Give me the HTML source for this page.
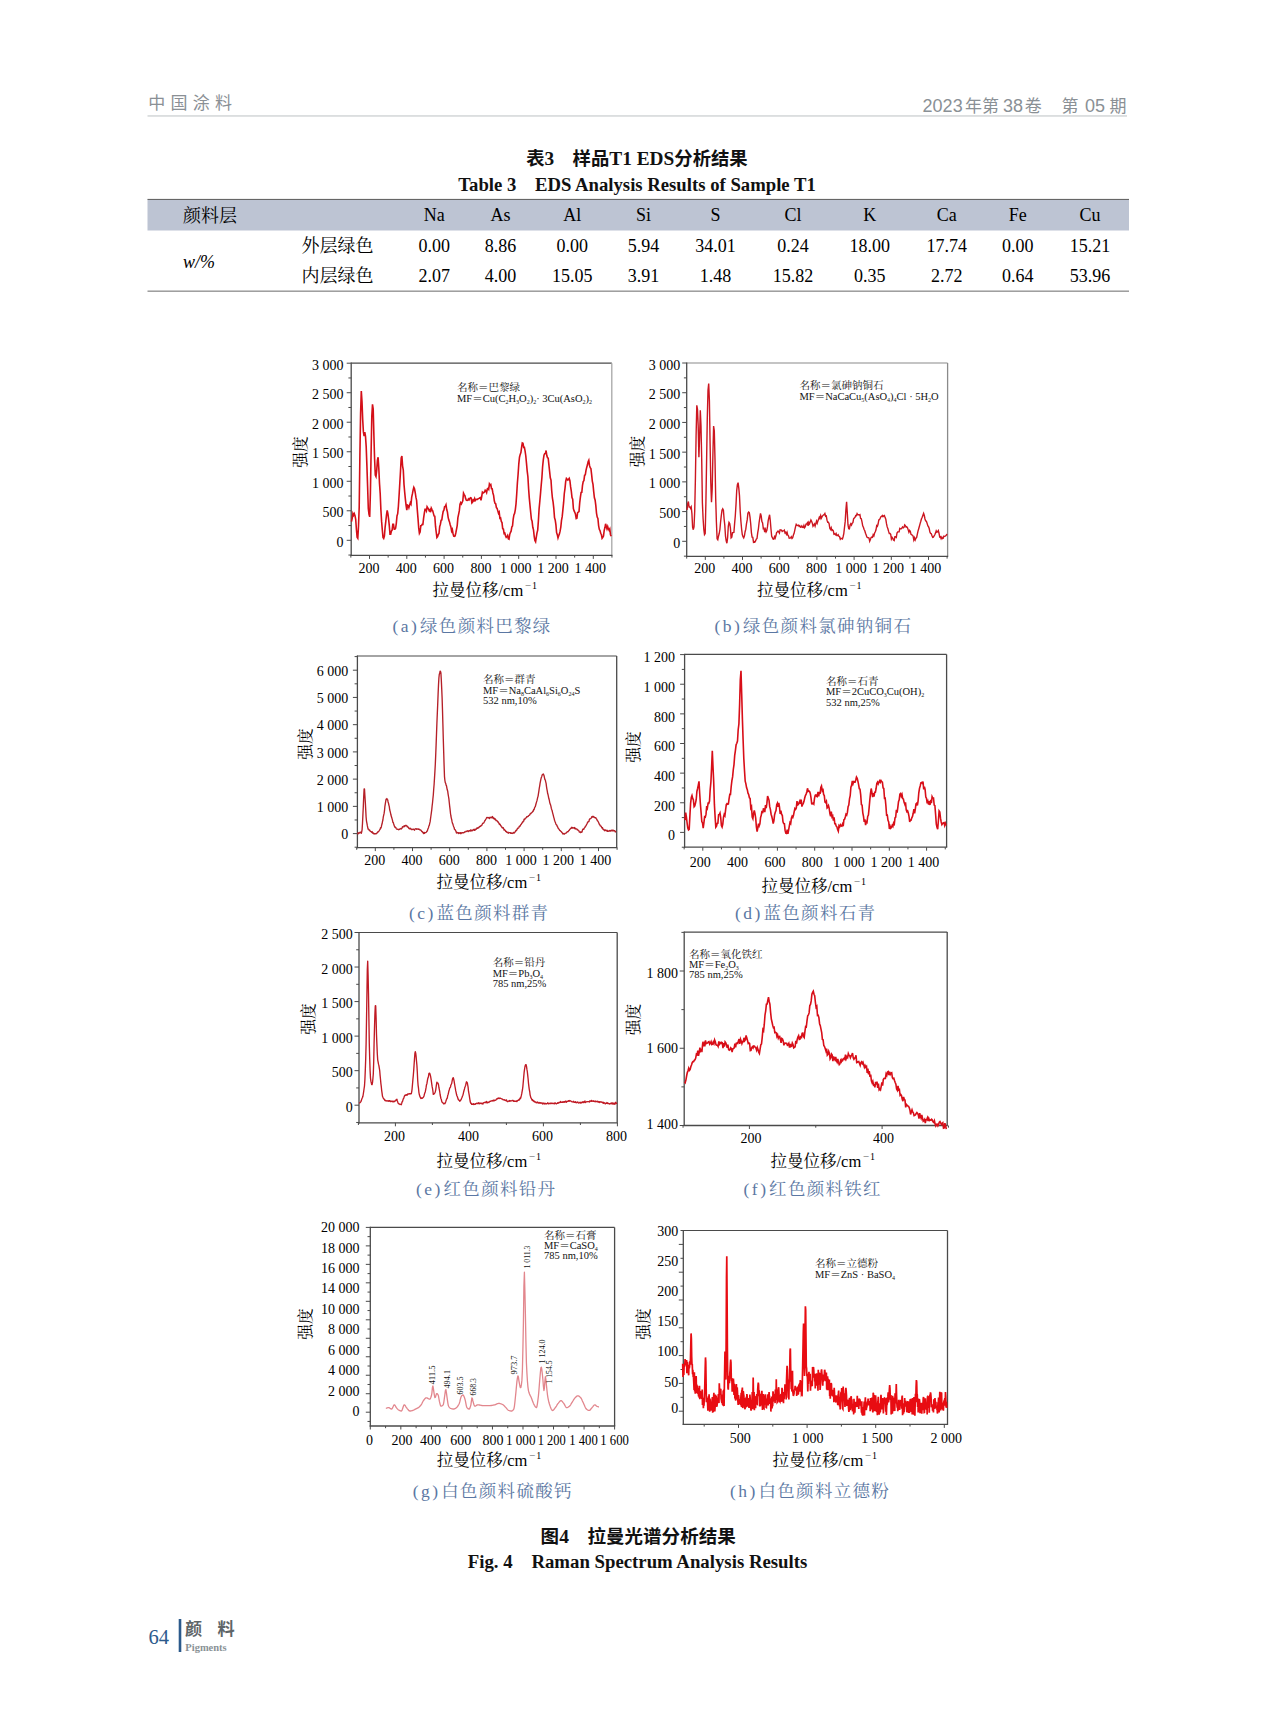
<!DOCTYPE html><html><head><meta charset="utf-8"><title>page</title><style>html,body{margin:0;padding:0;background:#fff;}body{width:1275px;height:1718px;overflow:hidden;position:relative;}svg{position:absolute;left:0;top:0;}</style></head><body>
<svg width="1275" height="1718" viewBox="0 0 1275 1718">
<text x="148.3" y="108.9" font-size="17" font-family="'Liberation Sans','Noto Sans CJK SC',sans-serif" fill="#8a9095" text-anchor="start" letter-spacing="5.2">中国涂料</text>
<text x="922.6" y="112.4" font-size="18" font-family="'Liberation Sans','Noto Sans CJK SC',sans-serif" fill="#8a9095" text-anchor="start" >2023</text>
<text x="965" y="112.4" font-size="17" font-family="'Liberation Sans','Noto Sans CJK SC',sans-serif" fill="#8a9095" text-anchor="start" >年第</text>
<text x="1003" y="112.4" font-size="18" font-family="'Liberation Sans','Noto Sans CJK SC',sans-serif" fill="#8a9095" text-anchor="start" >38</text>
<text x="1024.8" y="112.4" font-size="17" font-family="'Liberation Sans','Noto Sans CJK SC',sans-serif" fill="#8a9095" text-anchor="start" >卷</text>
<text x="1061.6" y="112.4" font-size="17" font-family="'Liberation Sans','Noto Sans CJK SC',sans-serif" fill="#8a9095" text-anchor="start" >第</text>
<text x="1085" y="112.4" font-size="18" font-family="'Liberation Sans','Noto Sans CJK SC',sans-serif" fill="#8a9095" text-anchor="start" >05</text>
<text x="1109.4" y="112.4" font-size="17" font-family="'Liberation Sans','Noto Sans CJK SC',sans-serif" fill="#8a9095" text-anchor="start" >期</text>
<rect x="147.5" y="115.2" width="979.5" height="1.5" fill="#d3d6d8"/>
<text x="526.2" y="165" font-family="'Liberation Sans','Noto Sans CJK SC',sans-serif" font-weight="bold" font-size="18.5" fill="#111" textLength="221.5" lengthAdjust="spacingAndGlyphs">表<tspan font-family="'Liberation Serif','Noto Serif CJK SC',serif" font-size="19.5">3</tspan>　样品<tspan font-family="'Liberation Serif','Noto Serif CJK SC',serif" font-size="19.5">T1 EDS</tspan>分析结果</text>
<text x="458.3" y="191" font-size="19.3" font-family="'Liberation Serif','Noto Serif CJK SC',serif" fill="#111" text-anchor="start" font-weight="bold" textLength="357.5" lengthAdjust="spacingAndGlyphs">Table 3 EDS Analysis Results of Sample T1</text>
<rect x="147.5" y="199.5" width="981.5" height="31" fill="#bdc4d3"/>
<rect x="147.5" y="198.9" width="981.5" height="1.1" fill="#666"/>
<rect x="147.5" y="290.6" width="981.5" height="1.1" fill="#777"/>
<text x="183" y="221.5" font-size="18" font-family="'Liberation Serif','Noto Serif CJK SC',serif" fill="#000" text-anchor="start" >颜料层</text>
<text x="434.3" y="221.2" font-size="18" font-family="'Liberation Serif','Noto Serif CJK SC',serif" fill="#000" text-anchor="middle" >Na</text>
<text x="434.3" y="251.6" font-size="18" font-family="'Liberation Serif','Noto Serif CJK SC',serif" fill="#000" text-anchor="middle" >0.00</text>
<text x="434.3" y="282.2" font-size="18" font-family="'Liberation Serif','Noto Serif CJK SC',serif" fill="#000" text-anchor="middle" >2.07</text>
<text x="500.4" y="221.2" font-size="18" font-family="'Liberation Serif','Noto Serif CJK SC',serif" fill="#000" text-anchor="middle" >As</text>
<text x="500.4" y="251.6" font-size="18" font-family="'Liberation Serif','Noto Serif CJK SC',serif" fill="#000" text-anchor="middle" >8.86</text>
<text x="500.4" y="282.2" font-size="18" font-family="'Liberation Serif','Noto Serif CJK SC',serif" fill="#000" text-anchor="middle" >4.00</text>
<text x="572.2" y="221.2" font-size="18" font-family="'Liberation Serif','Noto Serif CJK SC',serif" fill="#000" text-anchor="middle" >Al</text>
<text x="572.2" y="251.6" font-size="18" font-family="'Liberation Serif','Noto Serif CJK SC',serif" fill="#000" text-anchor="middle" >0.00</text>
<text x="572.2" y="282.2" font-size="18" font-family="'Liberation Serif','Noto Serif CJK SC',serif" fill="#000" text-anchor="middle" >15.05</text>
<text x="643.5" y="221.2" font-size="18" font-family="'Liberation Serif','Noto Serif CJK SC',serif" fill="#000" text-anchor="middle" >Si</text>
<text x="643.5" y="251.6" font-size="18" font-family="'Liberation Serif','Noto Serif CJK SC',serif" fill="#000" text-anchor="middle" >5.94</text>
<text x="643.5" y="282.2" font-size="18" font-family="'Liberation Serif','Noto Serif CJK SC',serif" fill="#000" text-anchor="middle" >3.91</text>
<text x="715.4" y="221.2" font-size="18" font-family="'Liberation Serif','Noto Serif CJK SC',serif" fill="#000" text-anchor="middle" >S</text>
<text x="715.4" y="251.6" font-size="18" font-family="'Liberation Serif','Noto Serif CJK SC',serif" fill="#000" text-anchor="middle" >34.01</text>
<text x="715.4" y="282.2" font-size="18" font-family="'Liberation Serif','Noto Serif CJK SC',serif" fill="#000" text-anchor="middle" >1.48</text>
<text x="793" y="221.2" font-size="18" font-family="'Liberation Serif','Noto Serif CJK SC',serif" fill="#000" text-anchor="middle" >Cl</text>
<text x="793" y="251.6" font-size="18" font-family="'Liberation Serif','Noto Serif CJK SC',serif" fill="#000" text-anchor="middle" >0.24</text>
<text x="793" y="282.2" font-size="18" font-family="'Liberation Serif','Noto Serif CJK SC',serif" fill="#000" text-anchor="middle" >15.82</text>
<text x="869.8" y="221.2" font-size="18" font-family="'Liberation Serif','Noto Serif CJK SC',serif" fill="#000" text-anchor="middle" >K</text>
<text x="869.8" y="251.6" font-size="18" font-family="'Liberation Serif','Noto Serif CJK SC',serif" fill="#000" text-anchor="middle" >18.00</text>
<text x="869.8" y="282.2" font-size="18" font-family="'Liberation Serif','Noto Serif CJK SC',serif" fill="#000" text-anchor="middle" >0.35</text>
<text x="946.8" y="221.2" font-size="18" font-family="'Liberation Serif','Noto Serif CJK SC',serif" fill="#000" text-anchor="middle" >Ca</text>
<text x="946.8" y="251.6" font-size="18" font-family="'Liberation Serif','Noto Serif CJK SC',serif" fill="#000" text-anchor="middle" >17.74</text>
<text x="946.8" y="282.2" font-size="18" font-family="'Liberation Serif','Noto Serif CJK SC',serif" fill="#000" text-anchor="middle" >2.72</text>
<text x="1017.8" y="221.2" font-size="18" font-family="'Liberation Serif','Noto Serif CJK SC',serif" fill="#000" text-anchor="middle" >Fe</text>
<text x="1017.8" y="251.6" font-size="18" font-family="'Liberation Serif','Noto Serif CJK SC',serif" fill="#000" text-anchor="middle" >0.00</text>
<text x="1017.8" y="282.2" font-size="18" font-family="'Liberation Serif','Noto Serif CJK SC',serif" fill="#000" text-anchor="middle" >0.64</text>
<text x="1090" y="221.2" font-size="18" font-family="'Liberation Serif','Noto Serif CJK SC',serif" fill="#000" text-anchor="middle" >Cu</text>
<text x="1090" y="251.6" font-size="18" font-family="'Liberation Serif','Noto Serif CJK SC',serif" fill="#000" text-anchor="middle" >15.21</text>
<text x="1090" y="282.2" font-size="18" font-family="'Liberation Serif','Noto Serif CJK SC',serif" fill="#000" text-anchor="middle" >53.96</text>
<text x="301.5" y="251.6" font-size="18" font-family="'Liberation Serif','Noto Serif CJK SC',serif" fill="#000" text-anchor="start" >外层绿色</text>
<text x="301.5" y="282.2" font-size="18" font-family="'Liberation Serif','Noto Serif CJK SC',serif" fill="#000" text-anchor="start" >内层绿色</text>
<text x="183" y="268" font-size="18" font-family="'Liberation Serif','Noto Serif CJK SC',serif" fill="#000" text-anchor="start" font-style="italic">w/%</text>
<line x1="351.2" y1="363.2" x2="611.8" y2="363.2" stroke="#4a4a4a" stroke-width="1.2"/>
<line x1="611.8" y1="363.2" x2="611.8" y2="555.4" stroke="#a6a6a6" stroke-width="1.3"/>
<line x1="351.2" y1="362.6" x2="351.2" y2="556" stroke="#4a4a4a" stroke-width="1.3"/>
<line x1="350.6" y1="555.4" x2="612.4" y2="555.4" stroke="#4a4a4a" stroke-width="1.3"/>
<line x1="348.4" y1="555.06" x2="351.2" y2="555.06" stroke="#4a4a4a" stroke-width="1"/>
<line x1="346.7" y1="540.3" x2="351.2" y2="540.3" stroke="#4a4a4a" stroke-width="1"/>
<line x1="348.4" y1="525.54" x2="351.2" y2="525.54" stroke="#4a4a4a" stroke-width="1"/>
<line x1="346.7" y1="510.78" x2="351.2" y2="510.78" stroke="#4a4a4a" stroke-width="1"/>
<line x1="348.4" y1="496.02" x2="351.2" y2="496.02" stroke="#4a4a4a" stroke-width="1"/>
<line x1="346.7" y1="481.27" x2="351.2" y2="481.27" stroke="#4a4a4a" stroke-width="1"/>
<line x1="348.4" y1="466.51" x2="351.2" y2="466.51" stroke="#4a4a4a" stroke-width="1"/>
<line x1="346.7" y1="451.75" x2="351.2" y2="451.75" stroke="#4a4a4a" stroke-width="1"/>
<line x1="348.4" y1="436.99" x2="351.2" y2="436.99" stroke="#4a4a4a" stroke-width="1"/>
<line x1="346.7" y1="422.23" x2="351.2" y2="422.23" stroke="#4a4a4a" stroke-width="1"/>
<line x1="348.4" y1="407.48" x2="351.2" y2="407.48" stroke="#4a4a4a" stroke-width="1"/>
<line x1="346.7" y1="392.72" x2="351.2" y2="392.72" stroke="#4a4a4a" stroke-width="1"/>
<line x1="348.4" y1="377.96" x2="351.2" y2="377.96" stroke="#4a4a4a" stroke-width="1"/>
<line x1="346.7" y1="363.2" x2="351.2" y2="363.2" stroke="#4a4a4a" stroke-width="1"/>
<line x1="350.85" y1="555.4" x2="350.85" y2="557.6" stroke="#4a4a4a" stroke-width="1"/>
<line x1="369.5" y1="555.4" x2="369.5" y2="558.9" stroke="#4a4a4a" stroke-width="1"/>
<line x1="388.15" y1="555.4" x2="388.15" y2="557.6" stroke="#4a4a4a" stroke-width="1"/>
<line x1="406.8" y1="555.4" x2="406.8" y2="558.9" stroke="#4a4a4a" stroke-width="1"/>
<line x1="425.45" y1="555.4" x2="425.45" y2="557.6" stroke="#4a4a4a" stroke-width="1"/>
<line x1="444.1" y1="555.4" x2="444.1" y2="558.9" stroke="#4a4a4a" stroke-width="1"/>
<line x1="462.75" y1="555.4" x2="462.75" y2="557.6" stroke="#4a4a4a" stroke-width="1"/>
<line x1="481.4" y1="555.4" x2="481.4" y2="558.9" stroke="#4a4a4a" stroke-width="1"/>
<line x1="500.05" y1="555.4" x2="500.05" y2="557.6" stroke="#4a4a4a" stroke-width="1"/>
<line x1="518.7" y1="555.4" x2="518.7" y2="558.9" stroke="#4a4a4a" stroke-width="1"/>
<line x1="537.35" y1="555.4" x2="537.35" y2="557.6" stroke="#4a4a4a" stroke-width="1"/>
<line x1="556" y1="555.4" x2="556" y2="558.9" stroke="#4a4a4a" stroke-width="1"/>
<line x1="574.65" y1="555.4" x2="574.65" y2="557.6" stroke="#4a4a4a" stroke-width="1"/>
<line x1="593.3" y1="555.4" x2="593.3" y2="558.9" stroke="#4a4a4a" stroke-width="1"/>
<line x1="611.95" y1="555.4" x2="611.95" y2="557.6" stroke="#4a4a4a" stroke-width="1"/>
<text x="343.5" y="369.8" font-size="14" font-family="'Liberation Serif','Noto Serif CJK SC',serif" fill="#000" text-anchor="end" >3 000</text>
<text x="343.5" y="399.32" font-size="14" font-family="'Liberation Serif','Noto Serif CJK SC',serif" fill="#000" text-anchor="end" >2 500</text>
<text x="343.5" y="428.83" font-size="14" font-family="'Liberation Serif','Noto Serif CJK SC',serif" fill="#000" text-anchor="end" >2 000</text>
<text x="343.5" y="458.35" font-size="14" font-family="'Liberation Serif','Noto Serif CJK SC',serif" fill="#000" text-anchor="end" >1 500</text>
<text x="343.5" y="487.87" font-size="14" font-family="'Liberation Serif','Noto Serif CJK SC',serif" fill="#000" text-anchor="end" >1 000</text>
<text x="343.5" y="517.38" font-size="14" font-family="'Liberation Serif','Noto Serif CJK SC',serif" fill="#000" text-anchor="end" >500</text>
<text x="343.5" y="546.9" font-size="14" font-family="'Liberation Serif','Noto Serif CJK SC',serif" fill="#000" text-anchor="end" >0</text>
<text x="369" y="572.8" font-size="14" font-family="'Liberation Serif','Noto Serif CJK SC',serif" fill="#000" text-anchor="middle" >200</text>
<text x="406.3" y="572.8" font-size="14" font-family="'Liberation Serif','Noto Serif CJK SC',serif" fill="#000" text-anchor="middle" >400</text>
<text x="443.6" y="572.8" font-size="14" font-family="'Liberation Serif','Noto Serif CJK SC',serif" fill="#000" text-anchor="middle" >600</text>
<text x="480.9" y="572.8" font-size="14" font-family="'Liberation Serif','Noto Serif CJK SC',serif" fill="#000" text-anchor="middle" >800</text>
<text x="515.7" y="572.8" font-size="14" font-family="'Liberation Serif','Noto Serif CJK SC',serif" fill="#000" text-anchor="middle" >1 000</text>
<text x="553" y="572.8" font-size="14" font-family="'Liberation Serif','Noto Serif CJK SC',serif" fill="#000" text-anchor="middle" >1 200</text>
<text x="590.3" y="572.8" font-size="14" font-family="'Liberation Serif','Noto Serif CJK SC',serif" fill="#000" text-anchor="middle" >1 400</text>
<text x="0" y="0" font-size="15.8" font-family="'Liberation Serif','Noto Serif CJK SC',serif" fill="#000" text-anchor="middle" transform="translate(306,452) rotate(-90)">强度</text>
<text x="432.5" y="596" font-size="16.5" font-family="'Liberation Serif','Noto Serif CJK SC',serif" fill="#000">拉曼位移/cm<tspan font-size="11" dy="-7" dx="1.5" fill="#666">−</tspan><tspan font-size="10" dx="1">1</tspan></text>
<text x="457" y="391" font-size="10.5" font-family="'Liberation Serif','Noto Serif CJK SC',serif" fill="#111">名称＝巴黎绿</text>
<text x="457" y="401.5" font-size="10.5" font-family="'Liberation Serif','Noto Serif CJK SC',serif" fill="#111">MF＝Cu(C<tspan font-size="6" baseline-shift="-2">2</tspan>H<tspan font-size="6" baseline-shift="-2">3</tspan>O<tspan font-size="6" baseline-shift="-2">2</tspan>)<tspan font-size="6" baseline-shift="-2">2</tspan>· 3Cu(AsO<tspan font-size="6" baseline-shift="-2">2</tspan>)<tspan font-size="6" baseline-shift="-2">2</tspan></text>
<text x="392.5" y="631.5" font-size="17.5" font-family="'Liberation Serif','Noto Serif CJK SC',serif" fill="#5b77a3" letter-spacing="1.3"><tspan letter-spacing="2.5">(a)</tspan><tspan dx="0.6">绿色颜料巴黎绿</tspan></text>
<path d="M351.5,521.7 L352.2,518.4 L352.9,513.6 L353.6,515.3 L354.3,513.7 L355.0,515.7 L355.7,519.3 L356.4,529.2 L357.1,537.3 L357.8,538.3 L358.5,526.2 L359.2,507.4 L359.9,454.9 L360.6,413.0 L361.3,391.0 L362.0,401.5 L362.7,419.6 L363.4,431.9 L364.1,436.0 L364.8,432.2 L365.5,436.4 L366.2,446.7 L366.9,465.6 L367.6,486.2 L368.3,508.5 L369.0,514.3 L369.7,516.9 L370.4,493.1 L371.1,452.8 L371.8,416.3 L372.5,404.3 L373.2,409.1 L373.9,435.4 L374.6,459.0 L375.3,475.0 L376.0,476.6 L376.7,470.7 L377.4,460.3 L378.1,457.2 L378.8,468.3 L379.5,483.4 L380.2,493.5 L380.9,510.0 L381.6,521.4 L382.3,529.7 L383.0,537.4 L383.7,538.4 L384.4,536.2 L385.1,527.4 L385.8,521.3 L386.5,514.8 L387.2,510.3 L387.9,513.7 L388.6,519.1 L389.3,525.6 L390.0,534.2 L390.7,534.2 L391.4,531.1 L392.1,530.1 L392.8,524.4 L393.5,524.4 L394.2,529.2 L394.9,529.2 L395.6,528.3 L396.3,523.3 L397.0,516.0 L397.7,513.7 L398.4,506.2 L399.1,495.1 L399.8,483.3 L400.5,471.3 L401.2,457.9 L401.9,456.1 L402.6,466.1 L403.3,470.1 L404.0,484.4 L404.7,492.4 L405.4,499.3 L406.1,505.7 L406.8,510.1 L407.5,505.1 L408.2,505.5 L408.9,507.7 L409.6,505.1 L410.3,502.8 L411.0,504.1 L411.7,497.1 L412.4,493.9 L413.1,490.1 L413.8,487.3 L414.5,488.8 L415.2,492.5 L415.9,497.2 L416.6,500.4 L417.3,509.9 L418.0,518.4 L418.7,527.9 L419.4,533.3 L420.1,531.9 L420.8,525.7 L421.5,525.6 L422.2,524.3 L422.9,524.4 L423.6,518.2 L424.3,513.3 L425.0,509.3 L425.7,509.3 L426.4,510.9 L427.1,506.7 L427.8,507.8 L428.5,509.1 L429.2,510.7 L429.9,509.8 L430.6,512.2 L431.3,508.1 L432.0,509.6 L432.7,510.9 L433.4,513.4 L434.1,515.9 L434.8,516.2 L435.5,526.2 L436.2,532.0 L436.9,537.5 L437.6,536.6 L438.3,534.4 L439.0,533.5 L439.7,526.6 L440.4,524.2 L441.1,520.3 L441.8,519.9 L442.5,515.2 L443.2,511.3 L443.9,510.1 L444.6,506.6 L445.3,506.4 L446.0,504.8 L446.7,509.5 L447.4,511.9 L448.1,517.1 L448.8,520.1 L449.5,521.9 L450.2,524.8 L450.9,526.9 L451.6,531.0 L452.3,529.4 L453.0,533.5 L453.7,536.1 L454.4,536.3 L455.1,535.9 L455.8,533.0 L456.5,529.4 L457.2,525.6 L457.9,517.7 L458.6,514.3 L459.3,510.9 L460.0,504.3 L460.7,502.6 L461.4,503.9 L462.1,502.5 L462.8,500.9 L463.5,493.2 L464.2,494.7 L464.9,495.7 L465.6,498.4 L466.3,500.2 L467.0,500.5 L467.7,500.3 L468.4,499.0 L469.1,499.8 L469.8,498.4 L470.5,497.8 L471.2,498.1 L471.9,503.0 L472.6,502.2 L473.3,498.8 L474.0,501.6 L474.7,498.6 L475.4,500.4 L476.1,499.4 L476.8,499.2 L477.5,499.3 L478.2,498.7 L478.9,498.4 L479.6,498.0 L480.3,497.6 L481.0,500.3 L481.7,496.5 L482.4,492.2 L483.1,492.9 L483.8,492.5 L484.5,492.0 L485.2,490.2 L485.9,491.0 L486.6,492.6 L487.3,489.0 L488.0,488.4 L488.7,489.4 L489.4,484.0 L490.1,485.2 L490.8,484.6 L491.5,488.6 L492.2,488.9 L492.9,493.0 L493.6,495.4 L494.3,500.8 L495.0,503.3 L495.7,503.8 L496.4,507.6 L497.1,508.4 L497.8,510.9 L498.5,513.3 L499.2,512.2 L499.9,518.3 L500.6,517.9 L501.3,521.4 L502.0,522.6 L502.7,528.7 L503.4,529.1 L504.1,533.5 L504.8,533.2 L505.5,535.8 L506.2,537.3 L506.9,536.6 L507.6,535.4 L508.3,538.8 L509.0,539.2 L509.7,534.6 L510.4,532.6 L511.1,531.2 L511.8,527.0 L512.5,526.0 L513.2,519.0 L513.9,514.9 L514.6,513.4 L515.3,509.8 L516.0,504.0 L516.7,494.3 L517.4,482.8 L518.1,474.2 L518.8,463.8 L519.5,457.2 L520.2,454.4 L520.9,452.6 L521.6,447.3 L522.3,442.9 L523.0,443.2 L523.7,447.4 L524.4,447.3 L525.1,451.2 L525.8,456.0 L526.5,463.4 L527.2,471.2 L527.9,476.7 L528.6,488.8 L529.3,498.1 L530.0,505.4 L530.7,512.5 L531.4,519.4 L532.1,521.3 L532.8,527.3 L533.5,529.9 L534.2,536.3 L534.9,540.5 L535.6,541.8 L536.3,537.2 L537.0,532.9 L537.7,530.1 L538.4,520.6 L539.1,508.8 L539.8,501.5 L540.5,493.6 L541.2,485.3 L541.9,477.7 L542.6,466.7 L543.3,459.9 L544.0,455.2 L544.7,453.6 L545.4,453.4 L546.1,450.5 L546.8,455.5 L547.5,457.7 L548.2,458.2 L548.9,464.9 L549.6,471.3 L550.3,477.8 L551.0,480.1 L551.7,490.8 L552.4,498.0 L553.1,502.1 L553.8,508.4 L554.5,517.6 L555.2,520.0 L555.9,524.7 L556.6,532.7 L557.3,534.7 L558.0,537.9 L558.7,535.8 L559.4,534.1 L560.1,531.2 L560.8,527.1 L561.5,520.4 L562.2,516.7 L562.9,509.6 L563.6,502.7 L564.3,493.5 L565.0,488.3 L565.7,481.3 L566.4,478.5 L567.1,479.3 L567.8,480.1 L568.5,479.4 L569.2,478.3 L569.9,480.7 L570.6,486.7 L571.3,491.1 L572.0,497.5 L572.7,499.1 L573.4,508.7 L574.1,511.0 L574.8,512.3 L575.5,514.3 L576.2,518.6 L576.9,518.2 L577.6,512.6 L578.3,512.1 L579.0,511.6 L579.7,502.9 L580.4,497.1 L581.1,492.5 L581.8,492.3 L582.5,485.3 L583.2,481.5 L583.9,480.7 L584.6,475.3 L585.3,474.8 L586.0,470.4 L586.7,467.4 L587.4,465.1 L588.1,461.8 L588.8,460.3 L589.5,465.4 L590.2,467.7 L590.9,468.5 L591.6,474.3 L592.3,481.1 L593.0,484.4 L593.7,491.7 L594.4,497.8 L595.1,500.0 L595.8,505.4 L596.5,513.1 L597.2,517.1 L597.9,518.4 L598.6,525.6 L599.3,529.3 L600.0,530.5 L600.7,533.3 L601.4,534.5 L602.1,538.3 L602.8,537.4 L603.5,536.0 L604.2,530.4 L604.9,527.8 L605.6,523.8 L606.3,526.5 L607.0,528.9 L607.7,526.6 L608.4,528.9 L609.1,530.3 L609.8,528.9 L610.5,534.7 L611.2,536.3" fill="none" stroke="#d40f18" stroke-width="1.6" stroke-linejoin="miter"/>
<line x1="686.7" y1="363" x2="947.6" y2="363" stroke="#8a8a8a" stroke-width="1.2"/>
<line x1="947.6" y1="363" x2="947.6" y2="556.4" stroke="#8a8a8a" stroke-width="1.3"/>
<line x1="686.7" y1="362.4" x2="686.7" y2="557" stroke="#4a4a4a" stroke-width="1.3"/>
<line x1="686.1" y1="556.4" x2="948.2" y2="556.4" stroke="#4a4a4a" stroke-width="1.3"/>
<line x1="683.9" y1="556.16" x2="686.7" y2="556.16" stroke="#4a4a4a" stroke-width="1"/>
<line x1="682.2" y1="541.3" x2="686.7" y2="541.3" stroke="#4a4a4a" stroke-width="1"/>
<line x1="683.9" y1="526.44" x2="686.7" y2="526.44" stroke="#4a4a4a" stroke-width="1"/>
<line x1="682.2" y1="511.58" x2="686.7" y2="511.58" stroke="#4a4a4a" stroke-width="1"/>
<line x1="683.9" y1="496.72" x2="686.7" y2="496.72" stroke="#4a4a4a" stroke-width="1"/>
<line x1="682.2" y1="481.87" x2="686.7" y2="481.87" stroke="#4a4a4a" stroke-width="1"/>
<line x1="683.9" y1="467.01" x2="686.7" y2="467.01" stroke="#4a4a4a" stroke-width="1"/>
<line x1="682.2" y1="452.15" x2="686.7" y2="452.15" stroke="#4a4a4a" stroke-width="1"/>
<line x1="683.9" y1="437.29" x2="686.7" y2="437.29" stroke="#4a4a4a" stroke-width="1"/>
<line x1="682.2" y1="422.43" x2="686.7" y2="422.43" stroke="#4a4a4a" stroke-width="1"/>
<line x1="683.9" y1="407.57" x2="686.7" y2="407.57" stroke="#4a4a4a" stroke-width="1"/>
<line x1="682.2" y1="392.72" x2="686.7" y2="392.72" stroke="#4a4a4a" stroke-width="1"/>
<line x1="683.9" y1="377.86" x2="686.7" y2="377.86" stroke="#4a4a4a" stroke-width="1"/>
<line x1="682.2" y1="363" x2="686.7" y2="363" stroke="#4a4a4a" stroke-width="1"/>
<line x1="686.7" y1="556.4" x2="686.7" y2="558.6" stroke="#4a4a4a" stroke-width="1"/>
<line x1="705.3" y1="556.4" x2="705.3" y2="559.9" stroke="#4a4a4a" stroke-width="1"/>
<line x1="723.9" y1="556.4" x2="723.9" y2="558.6" stroke="#4a4a4a" stroke-width="1"/>
<line x1="742.5" y1="556.4" x2="742.5" y2="559.9" stroke="#4a4a4a" stroke-width="1"/>
<line x1="761.1" y1="556.4" x2="761.1" y2="558.6" stroke="#4a4a4a" stroke-width="1"/>
<line x1="779.7" y1="556.4" x2="779.7" y2="559.9" stroke="#4a4a4a" stroke-width="1"/>
<line x1="798.3" y1="556.4" x2="798.3" y2="558.6" stroke="#4a4a4a" stroke-width="1"/>
<line x1="816.9" y1="556.4" x2="816.9" y2="559.9" stroke="#4a4a4a" stroke-width="1"/>
<line x1="835.5" y1="556.4" x2="835.5" y2="558.6" stroke="#4a4a4a" stroke-width="1"/>
<line x1="854.1" y1="556.4" x2="854.1" y2="559.9" stroke="#4a4a4a" stroke-width="1"/>
<line x1="872.7" y1="556.4" x2="872.7" y2="558.6" stroke="#4a4a4a" stroke-width="1"/>
<line x1="891.3" y1="556.4" x2="891.3" y2="559.9" stroke="#4a4a4a" stroke-width="1"/>
<line x1="909.9" y1="556.4" x2="909.9" y2="558.6" stroke="#4a4a4a" stroke-width="1"/>
<line x1="928.5" y1="556.4" x2="928.5" y2="559.9" stroke="#4a4a4a" stroke-width="1"/>
<line x1="947.1" y1="556.4" x2="947.1" y2="558.6" stroke="#4a4a4a" stroke-width="1"/>
<text x="680.2" y="369.6" font-size="14" font-family="'Liberation Serif','Noto Serif CJK SC',serif" fill="#000" text-anchor="end" >3 000</text>
<text x="680.2" y="399.32" font-size="14" font-family="'Liberation Serif','Noto Serif CJK SC',serif" fill="#000" text-anchor="end" >2 500</text>
<text x="680.2" y="429.03" font-size="14" font-family="'Liberation Serif','Noto Serif CJK SC',serif" fill="#000" text-anchor="end" >2 000</text>
<text x="680.2" y="458.75" font-size="14" font-family="'Liberation Serif','Noto Serif CJK SC',serif" fill="#000" text-anchor="end" >1 500</text>
<text x="680.2" y="488.47" font-size="14" font-family="'Liberation Serif','Noto Serif CJK SC',serif" fill="#000" text-anchor="end" >1 000</text>
<text x="680.2" y="518.18" font-size="14" font-family="'Liberation Serif','Noto Serif CJK SC',serif" fill="#000" text-anchor="end" >500</text>
<text x="680.2" y="547.9" font-size="14" font-family="'Liberation Serif','Noto Serif CJK SC',serif" fill="#000" text-anchor="end" >0</text>
<text x="704.8" y="573.3" font-size="14" font-family="'Liberation Serif','Noto Serif CJK SC',serif" fill="#000" text-anchor="middle" >200</text>
<text x="742" y="573.3" font-size="14" font-family="'Liberation Serif','Noto Serif CJK SC',serif" fill="#000" text-anchor="middle" >400</text>
<text x="779.2" y="573.3" font-size="14" font-family="'Liberation Serif','Noto Serif CJK SC',serif" fill="#000" text-anchor="middle" >600</text>
<text x="816.4" y="573.3" font-size="14" font-family="'Liberation Serif','Noto Serif CJK SC',serif" fill="#000" text-anchor="middle" >800</text>
<text x="851.1" y="573.3" font-size="14" font-family="'Liberation Serif','Noto Serif CJK SC',serif" fill="#000" text-anchor="middle" >1 000</text>
<text x="888.3" y="573.3" font-size="14" font-family="'Liberation Serif','Noto Serif CJK SC',serif" fill="#000" text-anchor="middle" >1 200</text>
<text x="925.5" y="573.3" font-size="14" font-family="'Liberation Serif','Noto Serif CJK SC',serif" fill="#000" text-anchor="middle" >1 400</text>
<text x="0" y="0" font-size="15.8" font-family="'Liberation Serif','Noto Serif CJK SC',serif" fill="#000" text-anchor="middle" transform="translate(642.7,451.5) rotate(-90)">强度</text>
<text x="757" y="596" font-size="16.5" font-family="'Liberation Serif','Noto Serif CJK SC',serif" fill="#000">拉曼位移/cm<tspan font-size="11" dy="-7" dx="1.5" fill="#666">−</tspan><tspan font-size="10" dx="1">1</tspan></text>
<text x="799.5" y="389" font-size="10.5" font-family="'Liberation Serif','Noto Serif CJK SC',serif" fill="#111">名称＝氯砷钠铜石</text>
<text x="799.5" y="399.5" font-size="10.5" font-family="'Liberation Serif','Noto Serif CJK SC',serif" fill="#111">MF＝NaCaCu<tspan font-size="6" baseline-shift="-2">5</tspan>(AsO<tspan font-size="6" baseline-shift="-2">4</tspan>)<tspan font-size="6" baseline-shift="-2">4</tspan>Cl · 5H<tspan font-size="6" baseline-shift="-2">2</tspan>O</text>
<text x="714.5" y="631.5" font-size="17.5" font-family="'Liberation Serif','Noto Serif CJK SC',serif" fill="#5b77a3" letter-spacing="1.3"><tspan letter-spacing="2.5">(b)</tspan><tspan dx="0.6">绿色颜料氯砷钠铜石</tspan></text>
<path d="M687.0,510.0 L687.7,503.7 L688.4,501.5 L689.1,507.0 L689.8,507.0 L690.5,508.3 L691.2,506.9 L691.9,513.3 L692.6,527.1 L693.3,529.7 L694.0,526.8 L694.7,511.6 L695.4,478.9 L696.1,435.2 L696.8,405.3 L697.5,409.4 L698.2,426.7 L698.9,457.2 L699.6,437.4 L700.3,410.2 L701.0,425.7 L701.7,458.9 L702.4,503.1 L703.1,518.7 L703.8,529.1 L704.5,534.5 L705.2,533.5 L705.9,502.5 L706.6,460.5 L707.3,417.8 L708.0,390.4 L708.7,383.6 L709.4,400.6 L710.1,443.4 L710.8,483.1 L711.5,502.2 L712.2,489.0 L712.9,454.4 L713.6,426.0 L714.3,430.7 L715.0,459.6 L715.7,498.5 L716.4,522.0 L717.1,538.7 L717.8,539.7 L718.5,536.2 L719.2,533.5 L719.9,529.5 L720.6,521.8 L721.3,515.7 L722.0,510.1 L722.7,508.8 L723.4,510.3 L724.1,519.0 L724.8,525.2 L725.5,536.1 L726.2,540.8 L726.9,543.2 L727.6,537.8 L728.3,526.3 L729.0,522.4 L729.7,523.5 L730.4,527.9 L731.1,537.8 L731.8,537.1 L732.5,532.7 L733.2,532.6 L733.9,532.5 L734.6,523.6 L735.3,515.7 L736.0,504.6 L736.7,490.7 L737.4,484.7 L738.1,482.6 L738.8,488.2 L739.5,495.9 L740.2,511.0 L740.9,521.2 L741.6,529.0 L742.3,534.5 L743.0,536.6 L743.7,537.8 L744.4,536.0 L745.1,531.7 L745.8,529.2 L746.5,523.6 L747.2,519.9 L747.9,513.2 L748.6,512.0 L749.3,512.6 L750.0,517.2 L750.7,523.7 L751.4,532.6 L752.1,537.2 L752.8,537.3 L753.5,542.2 L754.2,541.7 L754.9,542.1 L755.6,541.0 L756.3,539.1 L757.0,538.5 L757.7,532.8 L758.4,528.8 L759.1,522.5 L759.8,517.9 L760.5,513.4 L761.2,515.9 L761.9,521.5 L762.6,523.0 L763.3,528.7 L764.0,528.3 L764.7,532.0 L765.4,529.4 L766.1,531.9 L766.8,530.6 L767.5,526.7 L768.2,520.6 L768.9,517.3 L769.6,514.8 L770.3,520.8 L771.0,529.3 L771.7,536.3 L772.4,537.6 L773.1,539.0 L773.8,539.1 L774.5,536.7 L775.2,538.1 L775.9,535.8 L776.6,532.7 L777.3,531.9 L778.0,531.1 L778.7,531.8 L779.4,533.0 L780.1,529.8 L780.8,529.9 L781.5,530.1 L782.2,531.4 L782.9,530.9 L783.6,530.9 L784.3,530.1 L785.0,532.9 L785.7,532.2 L786.4,534.2 L787.1,532.3 L787.8,535.1 L788.5,535.9 L789.2,538.2 L789.9,538.1 L790.6,537.9 L791.3,536.8 L792.0,538.4 L792.7,537.6 L793.4,535.0 L794.1,533.4 L794.8,530.1 L795.5,526.8 L796.2,524.4 L796.9,525.4 L797.6,525.5 L798.3,525.2 L799.0,526.2 L799.7,525.6 L800.4,527.3 L801.1,527.2 L801.8,526.0 L802.5,527.4 L803.2,527.5 L803.9,525.5 L804.6,527.7 L805.3,526.8 L806.0,524.1 L806.7,524.0 L807.4,522.9 L808.1,525.9 L808.8,522.4 L809.5,523.8 L810.2,521.9 L810.9,520.0 L811.6,521.4 L812.3,523.1 L813.0,526.2 L813.7,525.2 L814.4,524.0 L815.1,526.1 L815.8,523.6 L816.5,521.1 L817.2,523.3 L817.9,521.1 L818.6,519.2 L819.3,517.2 L820.0,518.5 L820.7,515.6 L821.4,518.0 L822.1,516.6 L822.8,515.6 L823.5,514.9 L824.2,514.7 L824.9,513.5 L825.6,516.2 L826.3,515.9 L827.0,520.2 L827.7,522.3 L828.4,522.2 L829.1,523.7 L829.8,528.2 L830.5,529.4 L831.2,527.7 L831.9,530.4 L832.6,529.9 L833.3,530.8 L834.0,534.2 L834.7,533.9 L835.4,534.8 L836.1,533.5 L836.8,535.5 L837.5,535.5 L838.2,534.7 L838.9,536.2 L839.6,536.7 L840.3,539.2 L841.0,538.3 L841.7,538.7 L842.4,539.0 L843.1,536.7 L843.8,533.6 L844.5,527.4 L845.2,521.4 L845.9,509.9 L846.6,501.7 L847.3,512.9 L848.0,525.0 L848.7,528.6 L849.4,528.8 L850.1,525.1 L850.8,523.7 L851.5,525.0 L852.2,523.2 L852.9,522.7 L853.6,518.9 L854.3,518.0 L855.0,517.4 L855.7,515.5 L856.4,515.7 L857.1,513.6 L857.8,514.8 L858.5,514.7 L859.2,515.0 L859.9,514.6 L860.6,518.5 L861.3,518.7 L862.0,521.9 L862.7,525.8 L863.4,527.2 L864.1,529.5 L864.8,530.7 L865.5,533.3 L866.2,535.0 L866.9,537.1 L867.6,537.6 L868.3,537.7 L869.0,538.0 L869.7,541.2 L870.4,539.6 L871.1,537.4 L871.8,537.1 L872.5,537.3 L873.2,534.7 L873.9,535.8 L874.6,533.0 L875.3,531.8 L876.0,529.8 L876.7,525.7 L877.4,526.3 L878.1,524.0 L878.8,519.8 L879.5,519.7 L880.2,518.2 L880.9,516.7 L881.6,516.4 L882.3,515.5 L883.0,516.6 L883.7,515.9 L884.4,515.5 L885.1,517.6 L885.8,519.2 L886.5,523.7 L887.2,526.9 L887.9,528.8 L888.6,531.4 L889.3,533.5 L890.0,533.5 L890.7,534.3 L891.4,539.0 L892.1,537.4 L892.8,538.4 L893.5,540.1 L894.2,540.6 L894.9,536.7 L895.6,536.7 L896.3,537.3 L897.0,533.0 L897.7,532.0 L898.4,531.9 L899.1,531.8 L899.8,528.4 L900.5,528.9 L901.2,528.9 L901.9,528.0 L902.6,527.0 L903.3,527.9 L904.0,527.4 L904.7,524.9 L905.4,525.7 L906.1,527.2 L906.8,526.9 L907.5,527.8 L908.2,529.9 L908.9,532.1 L909.6,530.4 L910.3,531.3 L911.0,534.4 L911.7,534.8 L912.4,535.0 L913.1,536.2 L913.8,539.9 L914.5,537.8 L915.2,539.9 L915.9,538.2 L916.6,537.6 L917.3,534.3 L918.0,531.1 L918.7,528.7 L919.4,526.2 L920.1,523.6 L920.8,521.3 L921.5,518.8 L922.2,517.2 L922.9,515.2 L923.6,513.3 L924.3,515.5 L925.0,519.0 L925.7,520.9 L926.4,521.2 L927.1,523.4 L927.8,525.8 L928.5,526.7 L929.2,528.5 L929.9,532.1 L930.6,533.4 L931.3,533.7 L932.0,535.8 L932.7,537.3 L933.4,537.1 L934.1,536.0 L934.8,534.8 L935.5,533.1 L936.2,530.8 L936.9,532.2 L937.6,531.8 L938.3,530.6 L939.0,533.2 L939.7,537.0 L940.4,536.7 L941.1,538.7 L941.8,537.1 L942.5,538.6 L943.2,538.3 L943.9,536.1 L944.6,536.3 L945.3,536.1 L946.0,535.6 L946.7,534.5 L947.4,534.7" fill="none" stroke="#cc1620" stroke-width="1.4" stroke-linejoin="miter"/>
<line x1="357.4" y1="656" x2="616.7" y2="656" stroke="#4a4a4a" stroke-width="1.2"/>
<line x1="616.7" y1="656" x2="616.7" y2="847.6" stroke="#4a4a4a" stroke-width="1.3"/>
<line x1="357.4" y1="655.4" x2="357.4" y2="848.2" stroke="#4a4a4a" stroke-width="1.3"/>
<line x1="356.8" y1="847.6" x2="617.3" y2="847.6" stroke="#4a4a4a" stroke-width="1.3"/>
<line x1="354.6" y1="847.22" x2="357.4" y2="847.22" stroke="#4a4a4a" stroke-width="1"/>
<line x1="352.9" y1="833.6" x2="357.4" y2="833.6" stroke="#4a4a4a" stroke-width="1"/>
<line x1="354.6" y1="819.98" x2="357.4" y2="819.98" stroke="#4a4a4a" stroke-width="1"/>
<line x1="352.9" y1="806.37" x2="357.4" y2="806.37" stroke="#4a4a4a" stroke-width="1"/>
<line x1="354.6" y1="792.75" x2="357.4" y2="792.75" stroke="#4a4a4a" stroke-width="1"/>
<line x1="352.9" y1="779.13" x2="357.4" y2="779.13" stroke="#4a4a4a" stroke-width="1"/>
<line x1="354.6" y1="765.52" x2="357.4" y2="765.52" stroke="#4a4a4a" stroke-width="1"/>
<line x1="352.9" y1="751.9" x2="357.4" y2="751.9" stroke="#4a4a4a" stroke-width="1"/>
<line x1="354.6" y1="738.28" x2="357.4" y2="738.28" stroke="#4a4a4a" stroke-width="1"/>
<line x1="352.9" y1="724.67" x2="357.4" y2="724.67" stroke="#4a4a4a" stroke-width="1"/>
<line x1="354.6" y1="711.05" x2="357.4" y2="711.05" stroke="#4a4a4a" stroke-width="1"/>
<line x1="352.9" y1="697.43" x2="357.4" y2="697.43" stroke="#4a4a4a" stroke-width="1"/>
<line x1="354.6" y1="683.82" x2="357.4" y2="683.82" stroke="#4a4a4a" stroke-width="1"/>
<line x1="352.9" y1="670.2" x2="357.4" y2="670.2" stroke="#4a4a4a" stroke-width="1"/>
<line x1="354.6" y1="656.58" x2="357.4" y2="656.58" stroke="#4a4a4a" stroke-width="1"/>
<line x1="356.7" y1="847.6" x2="356.7" y2="849.8" stroke="#4a4a4a" stroke-width="1"/>
<line x1="375.3" y1="847.6" x2="375.3" y2="851.1" stroke="#4a4a4a" stroke-width="1"/>
<line x1="393.9" y1="847.6" x2="393.9" y2="849.8" stroke="#4a4a4a" stroke-width="1"/>
<line x1="412.5" y1="847.6" x2="412.5" y2="851.1" stroke="#4a4a4a" stroke-width="1"/>
<line x1="431.1" y1="847.6" x2="431.1" y2="849.8" stroke="#4a4a4a" stroke-width="1"/>
<line x1="449.7" y1="847.6" x2="449.7" y2="851.1" stroke="#4a4a4a" stroke-width="1"/>
<line x1="468.3" y1="847.6" x2="468.3" y2="849.8" stroke="#4a4a4a" stroke-width="1"/>
<line x1="486.9" y1="847.6" x2="486.9" y2="851.1" stroke="#4a4a4a" stroke-width="1"/>
<line x1="505.5" y1="847.6" x2="505.5" y2="849.8" stroke="#4a4a4a" stroke-width="1"/>
<line x1="524.1" y1="847.6" x2="524.1" y2="851.1" stroke="#4a4a4a" stroke-width="1"/>
<line x1="542.7" y1="847.6" x2="542.7" y2="849.8" stroke="#4a4a4a" stroke-width="1"/>
<line x1="561.3" y1="847.6" x2="561.3" y2="851.1" stroke="#4a4a4a" stroke-width="1"/>
<line x1="579.9" y1="847.6" x2="579.9" y2="849.8" stroke="#4a4a4a" stroke-width="1"/>
<line x1="598.5" y1="847.6" x2="598.5" y2="851.1" stroke="#4a4a4a" stroke-width="1"/>
<line x1="617.1" y1="847.6" x2="617.1" y2="849.8" stroke="#4a4a4a" stroke-width="1"/>
<text x="348.2" y="676" font-size="14" font-family="'Liberation Serif','Noto Serif CJK SC',serif" fill="#000" text-anchor="end" >6 000</text>
<text x="348.2" y="703.23" font-size="14" font-family="'Liberation Serif','Noto Serif CJK SC',serif" fill="#000" text-anchor="end" >5 000</text>
<text x="348.2" y="730.47" font-size="14" font-family="'Liberation Serif','Noto Serif CJK SC',serif" fill="#000" text-anchor="end" >4 000</text>
<text x="348.2" y="757.7" font-size="14" font-family="'Liberation Serif','Noto Serif CJK SC',serif" fill="#000" text-anchor="end" >3 000</text>
<text x="348.2" y="784.93" font-size="14" font-family="'Liberation Serif','Noto Serif CJK SC',serif" fill="#000" text-anchor="end" >2 000</text>
<text x="348.2" y="812.17" font-size="14" font-family="'Liberation Serif','Noto Serif CJK SC',serif" fill="#000" text-anchor="end" >1 000</text>
<text x="348.2" y="839.4" font-size="14" font-family="'Liberation Serif','Noto Serif CJK SC',serif" fill="#000" text-anchor="end" >0</text>
<text x="374.8" y="865" font-size="14" font-family="'Liberation Serif','Noto Serif CJK SC',serif" fill="#000" text-anchor="middle" >200</text>
<text x="412" y="865" font-size="14" font-family="'Liberation Serif','Noto Serif CJK SC',serif" fill="#000" text-anchor="middle" >400</text>
<text x="449.2" y="865" font-size="14" font-family="'Liberation Serif','Noto Serif CJK SC',serif" fill="#000" text-anchor="middle" >600</text>
<text x="486.4" y="865" font-size="14" font-family="'Liberation Serif','Noto Serif CJK SC',serif" fill="#000" text-anchor="middle" >800</text>
<text x="521.1" y="865" font-size="14" font-family="'Liberation Serif','Noto Serif CJK SC',serif" fill="#000" text-anchor="middle" >1 000</text>
<text x="558.3" y="865" font-size="14" font-family="'Liberation Serif','Noto Serif CJK SC',serif" fill="#000" text-anchor="middle" >1 200</text>
<text x="595.5" y="865" font-size="14" font-family="'Liberation Serif','Noto Serif CJK SC',serif" fill="#000" text-anchor="middle" >1 400</text>
<text x="0" y="0" font-size="15.8" font-family="'Liberation Serif','Noto Serif CJK SC',serif" fill="#000" text-anchor="middle" transform="translate(311,744) rotate(-90)">强度</text>
<text x="436.5" y="888" font-size="16.5" font-family="'Liberation Serif','Noto Serif CJK SC',serif" fill="#000">拉曼位移/cm<tspan font-size="11" dy="-7" dx="1.5" fill="#666">−</tspan><tspan font-size="10" dx="1">1</tspan></text>
<text x="483" y="683" font-size="10.5" font-family="'Liberation Serif','Noto Serif CJK SC',serif" fill="#111">名称＝群青</text>
<text x="483" y="693.5" font-size="10.5" font-family="'Liberation Serif','Noto Serif CJK SC',serif" fill="#111">MF＝Na<tspan font-size="6" baseline-shift="-2">8</tspan>CaAl<tspan font-size="6" baseline-shift="-2">6</tspan>Si<tspan font-size="6" baseline-shift="-2">6</tspan>O<tspan font-size="6" baseline-shift="-2">24</tspan>S</text>
<text x="483" y="704" font-size="10.5" font-family="'Liberation Serif','Noto Serif CJK SC',serif" fill="#111">532 nm,10%</text>
<text x="409" y="918.5" font-size="17.5" font-family="'Liberation Serif','Noto Serif CJK SC',serif" fill="#5b77a3" letter-spacing="1.3"><tspan letter-spacing="2.5">(c)</tspan><tspan dx="0.6">蓝色颜料群青</tspan></text>
<path d="M357.7,834.4 L358.1,832.6 L358.5,833.6 L358.9,833.1 L359.3,833.0 L359.7,832.9 L360.1,832.2 L360.5,832.6 L360.9,832.2 L361.3,833.4 L361.7,831.9 L362.1,829.6 L362.5,823.2 L362.9,814.9 L363.3,806.8 L363.7,796.8 L364.1,789.0 L364.5,789.0 L364.9,795.8 L365.3,801.9 L365.7,809.4 L366.1,817.0 L366.5,821.1 L366.9,823.2 L367.3,825.4 L367.7,827.3 L368.1,829.0 L368.5,829.0 L368.9,829.6 L369.3,830.5 L369.7,830.2 L370.1,830.8 L370.5,831.5 L370.9,831.7 L371.3,831.8 L371.7,832.4 L372.1,831.5 L372.5,833.1 L372.9,832.8 L373.3,832.8 L373.7,833.7 L374.1,834.0 L374.5,833.7 L374.9,833.5 L375.3,833.8 L375.7,833.6 L376.1,833.9 L376.5,833.4 L376.9,832.9 L377.3,832.9 L377.7,832.1 L378.1,831.5 L378.5,831.7 L378.9,831.2 L379.3,830.5 L379.7,829.7 L380.1,829.4 L380.5,827.8 L380.9,828.1 L381.3,827.0 L381.7,824.9 L382.1,823.8 L382.5,821.5 L382.9,820.0 L383.3,816.9 L383.7,815.2 L384.1,813.4 L384.5,810.7 L384.9,806.3 L385.3,803.8 L385.7,801.4 L386.1,799.2 L386.5,799.3 L386.9,798.5 L387.3,799.7 L387.7,799.9 L388.1,802.0 L388.5,803.2 L388.9,805.1 L389.3,806.7 L389.7,809.8 L390.1,811.2 L390.5,812.9 L390.9,814.8 L391.3,816.2 L391.7,817.5 L392.1,818.9 L392.5,820.3 L392.9,822.3 L393.3,822.5 L393.7,824.0 L394.1,825.2 L394.5,826.4 L394.9,827.2 L395.3,827.1 L395.7,827.3 L396.1,828.3 L396.5,829.0 L396.9,829.1 L397.3,829.2 L397.7,829.2 L398.1,829.5 L398.5,829.4 L398.9,829.7 L399.3,829.1 L399.7,829.2 L400.1,828.9 L400.5,828.8 L400.9,828.4 L401.3,829.0 L401.7,828.3 L402.1,828.1 L402.5,826.7 L402.9,827.0 L403.3,826.7 L403.7,826.8 L404.1,825.6 L404.5,826.6 L404.9,826.3 L405.3,825.4 L405.7,825.4 L406.1,825.4 L406.5,825.7 L406.9,826.1 L407.3,826.9 L407.7,826.5 L408.1,827.3 L408.5,827.5 L408.9,828.5 L409.3,828.5 L409.7,828.9 L410.1,828.2 L410.5,828.7 L410.9,828.7 L411.3,829.6 L411.7,829.5 L412.1,829.2 L412.5,829.3 L412.9,829.6 L413.3,829.2 L413.7,829.1 L414.1,829.6 L414.5,830.2 L414.9,829.2 L415.3,829.0 L415.7,828.7 L416.1,828.6 L416.5,829.2 L416.9,829.2 L417.3,828.9 L417.7,829.1 L418.1,829.1 L418.5,829.3 L418.9,828.9 L419.3,829.4 L419.7,829.9 L420.1,829.8 L420.5,830.1 L420.9,830.2 L421.3,830.7 L421.7,831.5 L422.1,831.5 L422.5,832.0 L422.9,832.7 L423.3,833.0 L423.7,833.6 L424.1,832.3 L424.5,833.3 L424.9,832.7 L425.3,832.6 L425.7,832.6 L426.1,832.3 L426.5,831.9 L426.9,831.1 L427.3,831.0 L427.7,829.6 L428.1,828.6 L428.5,827.7 L428.9,825.9 L429.3,825.4 L429.7,823.4 L430.1,821.9 L430.5,818.8 L430.9,816.0 L431.3,813.2 L431.7,810.2 L432.1,806.3 L432.5,803.0 L432.9,798.8 L433.3,795.0 L433.7,789.3 L434.1,784.5 L434.5,778.1 L434.9,771.6 L435.3,764.5 L435.7,755.2 L436.1,745.1 L436.5,734.3 L436.9,723.2 L437.3,713.7 L437.7,704.5 L438.1,694.1 L438.5,685.0 L438.9,678.0 L439.3,674.2 L439.7,673.3 L440.1,671.1 L440.5,671.3 L440.9,672.9 L441.3,679.8 L441.7,688.4 L442.1,697.5 L442.5,710.2 L442.9,724.4 L443.3,739.2 L443.7,752.2 L444.1,765.6 L444.5,776.6 L444.9,780.5 L445.3,782.7 L445.7,783.3 L446.1,785.1 L446.5,785.8 L446.9,788.1 L447.3,790.1 L447.7,791.1 L448.1,794.1 L448.5,796.5 L448.9,798.9 L449.3,802.8 L449.7,806.3 L450.1,809.7 L450.5,813.5 L450.9,816.0 L451.3,818.1 L451.7,819.5 L452.1,821.9 L452.5,823.4 L452.9,824.1 L453.3,825.5 L453.7,826.7 L454.1,827.5 L454.5,829.3 L454.9,829.6 L455.3,830.0 L455.7,830.8 L456.1,831.7 L456.5,833.0 L456.9,832.4 L457.3,832.6 L457.7,832.8 L458.1,832.7 L458.5,833.6 L458.9,832.7 L459.3,833.2 L459.7,833.0 L460.1,833.2 L460.5,832.6 L460.9,833.7 L461.3,833.0 L461.7,833.0 L462.1,832.6 L462.5,832.6 L462.9,832.9 L463.3,832.9 L463.7,832.6 L464.1,832.6 L464.5,832.2 L464.9,831.8 L465.3,831.9 L465.7,831.6 L466.1,831.2 L466.5,831.4 L466.9,831.5 L467.3,831.1 L467.7,830.8 L468.1,831.1 L468.5,831.5 L468.9,830.7 L469.3,830.7 L469.7,830.6 L470.1,831.1 L470.5,829.9 L470.9,830.6 L471.3,830.9 L471.7,830.1 L472.1,830.8 L472.5,830.4 L472.9,829.9 L473.3,830.1 L473.7,829.4 L474.1,829.6 L474.5,830.3 L474.9,829.2 L475.3,830.0 L475.7,829.2 L476.1,829.4 L476.5,828.9 L476.9,827.9 L477.3,828.3 L477.7,828.4 L478.1,827.7 L478.5,827.4 L478.9,827.7 L479.3,827.0 L479.7,826.3 L480.1,826.3 L480.5,826.5 L480.9,825.6 L481.3,825.7 L481.7,825.5 L482.1,824.6 L482.5,823.7 L482.9,823.2 L483.3,823.2 L483.7,823.0 L484.1,822.2 L484.5,821.6 L484.9,820.6 L485.3,820.2 L485.7,819.3 L486.1,818.8 L486.5,818.0 L486.9,817.5 L487.3,817.8 L487.7,817.4 L488.1,817.4 L488.5,817.9 L488.9,817.6 L489.3,818.6 L489.7,817.8 L490.1,817.2 L490.5,817.7 L490.9,817.5 L491.3,817.2 L491.7,817.8 L492.1,817.2 L492.5,816.5 L492.9,818.0 L493.3,817.8 L493.7,818.7 L494.1,818.2 L494.5,818.3 L494.9,819.6 L495.3,819.0 L495.7,819.8 L496.1,820.6 L496.5,820.4 L496.9,820.7 L497.3,821.1 L497.7,821.8 L498.1,821.7 L498.5,822.7 L498.9,823.2 L499.3,824.3 L499.7,824.0 L500.1,824.3 L500.5,825.5 L500.9,825.6 L501.3,826.4 L501.7,826.9 L502.1,827.7 L502.5,827.5 L502.9,828.1 L503.3,827.7 L503.7,828.7 L504.1,830.1 L504.5,829.7 L504.9,830.2 L505.3,830.4 L505.7,831.4 L506.1,831.6 L506.5,831.5 L506.9,832.4 L507.3,832.4 L507.7,832.7 L508.1,832.3 L508.5,833.2 L508.9,832.8 L509.3,832.7 L509.7,832.6 L510.1,832.7 L510.5,833.2 L510.9,832.8 L511.3,833.3 L511.7,833.2 L512.1,833.5 L512.5,833.3 L512.9,833.0 L513.3,832.4 L513.7,833.1 L514.1,833.1 L514.5,832.6 L514.9,832.3 L515.3,831.5 L515.7,831.0 L516.1,830.3 L516.5,830.6 L516.9,829.7 L517.3,828.9 L517.7,828.2 L518.1,828.1 L518.5,828.1 L518.9,827.3 L519.3,826.3 L519.7,826.5 L520.1,826.0 L520.5,825.2 L520.9,824.6 L521.3,824.2 L521.7,823.4 L522.1,823.0 L522.5,821.9 L522.9,822.1 L523.3,821.1 L523.7,821.1 L524.1,819.1 L524.5,819.6 L524.9,819.2 L525.3,818.2 L525.7,818.1 L526.1,817.8 L526.5,817.4 L526.9,816.7 L527.3,816.5 L527.7,816.7 L528.1,816.5 L528.5,815.8 L528.9,815.5 L529.3,815.2 L529.7,815.1 L530.1,814.0 L530.5,813.5 L530.9,813.6 L531.3,812.8 L531.7,812.6 L532.1,812.3 L532.5,812.0 L532.9,810.9 L533.3,811.0 L533.7,809.5 L534.1,809.6 L534.5,808.0 L534.9,807.1 L535.3,806.6 L535.7,805.0 L536.1,803.5 L536.5,802.1 L536.9,800.9 L537.3,799.1 L537.7,797.4 L538.1,796.1 L538.5,793.3 L538.9,790.8 L539.3,788.0 L539.7,785.8 L540.1,783.2 L540.5,781.1 L540.9,779.1 L541.3,777.6 L541.7,776.7 L542.1,775.1 L542.5,774.7 L542.9,774.3 L543.3,774.0 L543.7,774.8 L544.1,775.8 L544.5,777.8 L544.9,779.5 L545.3,779.9 L545.7,781.8 L546.1,783.3 L546.5,786.6 L546.9,789.1 L547.3,791.1 L547.7,793.8 L548.1,794.8 L548.5,797.0 L548.9,798.8 L549.3,800.0 L549.7,802.3 L550.1,803.9 L550.5,804.6 L550.9,806.1 L551.3,808.2 L551.7,809.5 L552.1,810.5 L552.5,812.3 L552.9,813.9 L553.3,815.4 L553.7,817.1 L554.1,818.4 L554.5,820.2 L554.9,821.3 L555.3,822.2 L555.7,823.4 L556.1,824.4 L556.5,825.0 L556.9,825.1 L557.3,826.6 L557.7,827.0 L558.1,828.2 L558.5,828.3 L558.9,829.1 L559.3,829.6 L559.7,830.5 L560.1,830.5 L560.5,830.8 L560.9,831.5 L561.3,831.7 L561.7,832.3 L562.1,832.7 L562.5,833.2 L562.9,834.1 L563.3,833.5 L563.7,833.8 L564.1,833.8 L564.5,834.1 L564.9,833.3 L565.3,833.3 L565.7,833.2 L566.1,833.1 L566.5,832.6 L566.9,832.1 L567.3,831.6 L567.7,831.7 L568.1,831.7 L568.5,831.0 L568.9,830.6 L569.3,830.2 L569.7,829.3 L570.1,829.1 L570.5,828.6 L570.9,828.4 L571.3,828.0 L571.7,827.3 L572.1,828.0 L572.5,828.1 L572.9,827.5 L573.3,827.8 L573.7,827.8 L574.1,828.2 L574.5,827.5 L574.9,828.8 L575.3,828.2 L575.7,829.0 L576.1,828.8 L576.5,828.8 L576.9,829.1 L577.3,829.8 L577.7,829.6 L578.1,830.2 L578.5,830.6 L578.9,830.6 L579.3,832.0 L579.7,832.1 L580.1,832.1 L580.5,832.6 L580.9,831.8 L581.3,832.0 L581.7,832.3 L582.1,831.6 L582.5,830.0 L582.9,829.1 L583.3,829.3 L583.7,829.4 L584.1,828.3 L584.5,827.8 L584.9,827.5 L585.3,826.4 L585.7,826.1 L586.1,825.6 L586.5,824.7 L586.9,824.0 L587.3,822.9 L587.7,822.6 L588.1,821.6 L588.5,821.6 L588.9,821.5 L589.3,819.8 L589.7,818.8 L590.1,818.8 L590.5,818.6 L590.9,818.3 L591.3,817.9 L591.7,816.9 L592.1,816.6 L592.5,817.1 L592.9,816.2 L593.3,817.0 L593.7,816.6 L594.1,817.2 L594.5,817.4 L594.9,817.6 L595.3,817.9 L595.7,817.6 L596.1,818.4 L596.5,818.9 L596.9,819.6 L597.3,820.6 L597.7,820.9 L598.1,821.5 L598.5,822.3 L598.9,823.2 L599.3,824.3 L599.7,824.4 L600.1,825.6 L600.5,825.9 L600.9,826.2 L601.3,826.4 L601.7,827.4 L602.1,828.1 L602.5,827.6 L602.9,829.1 L603.3,829.6 L603.7,829.4 L604.1,829.7 L604.5,830.7 L604.9,830.5 L605.3,829.9 L605.7,830.5 L606.1,830.6 L606.5,830.8 L606.9,830.1 L607.3,831.3 L607.7,830.9 L608.1,831.2 L608.5,831.0 L608.9,831.3 L609.3,830.8 L609.7,830.5 L610.1,830.9 L610.5,831.1 L610.9,830.4 L611.3,830.9 L611.7,830.4 L612.1,830.1 L612.5,830.8 L612.9,830.1 L613.3,830.8 L613.7,830.4 L614.1,830.9 L614.5,830.6 L614.9,830.9 L615.3,831.9 L615.7,831.8 L616.1,832.1" fill="none" stroke="#b52028" stroke-width="1.35" stroke-linejoin="round"/>
<line x1="684.6" y1="654.4" x2="946.6" y2="654.4" stroke="#4a4a4a" stroke-width="1.2"/>
<line x1="946.6" y1="654.4" x2="946.6" y2="847.2" stroke="#4a4a4a" stroke-width="1.3"/>
<line x1="684.6" y1="653.8" x2="684.6" y2="847.8" stroke="#4a4a4a" stroke-width="1.3"/>
<line x1="684" y1="847.2" x2="947.2" y2="847.2" stroke="#4a4a4a" stroke-width="1.3"/>
<line x1="681.8" y1="847.22" x2="684.6" y2="847.22" stroke="#4a4a4a" stroke-width="1"/>
<line x1="680.1" y1="832.4" x2="684.6" y2="832.4" stroke="#4a4a4a" stroke-width="1"/>
<line x1="681.8" y1="817.58" x2="684.6" y2="817.58" stroke="#4a4a4a" stroke-width="1"/>
<line x1="680.1" y1="802.77" x2="684.6" y2="802.77" stroke="#4a4a4a" stroke-width="1"/>
<line x1="681.8" y1="787.95" x2="684.6" y2="787.95" stroke="#4a4a4a" stroke-width="1"/>
<line x1="680.1" y1="773.13" x2="684.6" y2="773.13" stroke="#4a4a4a" stroke-width="1"/>
<line x1="681.8" y1="758.32" x2="684.6" y2="758.32" stroke="#4a4a4a" stroke-width="1"/>
<line x1="680.1" y1="743.5" x2="684.6" y2="743.5" stroke="#4a4a4a" stroke-width="1"/>
<line x1="681.8" y1="728.68" x2="684.6" y2="728.68" stroke="#4a4a4a" stroke-width="1"/>
<line x1="680.1" y1="713.87" x2="684.6" y2="713.87" stroke="#4a4a4a" stroke-width="1"/>
<line x1="681.8" y1="699.05" x2="684.6" y2="699.05" stroke="#4a4a4a" stroke-width="1"/>
<line x1="680.1" y1="684.23" x2="684.6" y2="684.23" stroke="#4a4a4a" stroke-width="1"/>
<line x1="681.8" y1="669.42" x2="684.6" y2="669.42" stroke="#4a4a4a" stroke-width="1"/>
<line x1="680.1" y1="654.6" x2="684.6" y2="654.6" stroke="#4a4a4a" stroke-width="1"/>
<line x1="684.15" y1="847.2" x2="684.15" y2="849.4" stroke="#4a4a4a" stroke-width="1"/>
<line x1="702.8" y1="847.2" x2="702.8" y2="850.7" stroke="#4a4a4a" stroke-width="1"/>
<line x1="721.45" y1="847.2" x2="721.45" y2="849.4" stroke="#4a4a4a" stroke-width="1"/>
<line x1="740.1" y1="847.2" x2="740.1" y2="850.7" stroke="#4a4a4a" stroke-width="1"/>
<line x1="758.75" y1="847.2" x2="758.75" y2="849.4" stroke="#4a4a4a" stroke-width="1"/>
<line x1="777.4" y1="847.2" x2="777.4" y2="850.7" stroke="#4a4a4a" stroke-width="1"/>
<line x1="796.05" y1="847.2" x2="796.05" y2="849.4" stroke="#4a4a4a" stroke-width="1"/>
<line x1="814.7" y1="847.2" x2="814.7" y2="850.7" stroke="#4a4a4a" stroke-width="1"/>
<line x1="833.35" y1="847.2" x2="833.35" y2="849.4" stroke="#4a4a4a" stroke-width="1"/>
<line x1="852" y1="847.2" x2="852" y2="850.7" stroke="#4a4a4a" stroke-width="1"/>
<line x1="870.65" y1="847.2" x2="870.65" y2="849.4" stroke="#4a4a4a" stroke-width="1"/>
<line x1="889.3" y1="847.2" x2="889.3" y2="850.7" stroke="#4a4a4a" stroke-width="1"/>
<line x1="907.95" y1="847.2" x2="907.95" y2="849.4" stroke="#4a4a4a" stroke-width="1"/>
<line x1="926.6" y1="847.2" x2="926.6" y2="850.7" stroke="#4a4a4a" stroke-width="1"/>
<line x1="945.25" y1="847.2" x2="945.25" y2="849.4" stroke="#4a4a4a" stroke-width="1"/>
<text x="675.1" y="662.4" font-size="14" font-family="'Liberation Serif','Noto Serif CJK SC',serif" fill="#000" text-anchor="end" >1 200</text>
<text x="675.1" y="692.03" font-size="14" font-family="'Liberation Serif','Noto Serif CJK SC',serif" fill="#000" text-anchor="end" >1 000</text>
<text x="675.1" y="721.67" font-size="14" font-family="'Liberation Serif','Noto Serif CJK SC',serif" fill="#000" text-anchor="end" >800</text>
<text x="675.1" y="751.3" font-size="14" font-family="'Liberation Serif','Noto Serif CJK SC',serif" fill="#000" text-anchor="end" >600</text>
<text x="675.1" y="780.93" font-size="14" font-family="'Liberation Serif','Noto Serif CJK SC',serif" fill="#000" text-anchor="end" >400</text>
<text x="675.1" y="810.57" font-size="14" font-family="'Liberation Serif','Noto Serif CJK SC',serif" fill="#000" text-anchor="end" >200</text>
<text x="675.1" y="840.2" font-size="14" font-family="'Liberation Serif','Noto Serif CJK SC',serif" fill="#000" text-anchor="end" >0</text>
<text x="700.3" y="866.8" font-size="14" font-family="'Liberation Serif','Noto Serif CJK SC',serif" fill="#000" text-anchor="middle" >200</text>
<text x="737.6" y="866.8" font-size="14" font-family="'Liberation Serif','Noto Serif CJK SC',serif" fill="#000" text-anchor="middle" >400</text>
<text x="774.9" y="866.8" font-size="14" font-family="'Liberation Serif','Noto Serif CJK SC',serif" fill="#000" text-anchor="middle" >600</text>
<text x="812.2" y="866.8" font-size="14" font-family="'Liberation Serif','Noto Serif CJK SC',serif" fill="#000" text-anchor="middle" >800</text>
<text x="849" y="866.8" font-size="14" font-family="'Liberation Serif','Noto Serif CJK SC',serif" fill="#000" text-anchor="middle" >1 000</text>
<text x="886.3" y="866.8" font-size="14" font-family="'Liberation Serif','Noto Serif CJK SC',serif" fill="#000" text-anchor="middle" >1 200</text>
<text x="923.6" y="866.8" font-size="14" font-family="'Liberation Serif','Noto Serif CJK SC',serif" fill="#000" text-anchor="middle" >1 400</text>
<text x="0" y="0" font-size="15.8" font-family="'Liberation Serif','Noto Serif CJK SC',serif" fill="#000" text-anchor="middle" transform="translate(639.1,747) rotate(-90)">强度</text>
<text x="761.5" y="892" font-size="16.5" font-family="'Liberation Serif','Noto Serif CJK SC',serif" fill="#000">拉曼位移/cm<tspan font-size="11" dy="-7" dx="1.5" fill="#666">−</tspan><tspan font-size="10" dx="1">1</tspan></text>
<text x="826" y="684.5" font-size="10.5" font-family="'Liberation Serif','Noto Serif CJK SC',serif" fill="#111">名称＝石青</text>
<text x="826" y="695" font-size="10.5" font-family="'Liberation Serif','Noto Serif CJK SC',serif" fill="#111">MF＝2CuCO<tspan font-size="6" baseline-shift="-2">3</tspan>Cu(OH)<tspan font-size="6" baseline-shift="-2">2</tspan></text>
<text x="826" y="705.5" font-size="10.5" font-family="'Liberation Serif','Noto Serif CJK SC',serif" fill="#111">532 nm,25%</text>
<text x="735" y="918.5" font-size="17.5" font-family="'Liberation Serif','Noto Serif CJK SC',serif" fill="#5b77a3" letter-spacing="1.3"><tspan letter-spacing="2.5">(d)</tspan><tspan dx="0.6">蓝色颜料石青</tspan></text>
<path d="M685.0,820.1 L685.7,812.6 L686.4,817.0 L687.1,823.0 L687.8,828.0 L688.5,829.9 L689.2,829.3 L689.9,815.8 L690.6,803.3 L691.3,797.5 L692.0,795.5 L692.7,798.4 L693.4,799.9 L694.1,806.7 L694.8,805.8 L695.5,803.1 L696.2,799.7 L696.9,791.5 L697.6,788.5 L698.3,785.1 L699.0,781.3 L699.7,793.5 L700.4,804.0 L701.1,812.5 L701.8,821.6 L702.5,823.0 L703.2,828.1 L703.9,822.8 L704.6,816.7 L705.3,817.1 L706.0,814.4 L706.7,806.0 L707.4,807.8 L708.1,803.2 L708.8,803.3 L709.5,801.0 L710.2,789.3 L710.9,782.1 L711.6,767.5 L712.3,750.9 L713.0,766.7 L713.7,781.6 L714.4,804.4 L715.1,816.8 L715.8,827.2 L716.5,826.2 L717.2,823.4 L717.9,823.1 L718.6,814.8 L719.3,814.5 L720.0,813.0 L720.7,817.5 L721.4,825.5 L722.1,827.0 L722.8,824.0 L723.5,817.2 L724.2,814.4 L724.9,815.7 L725.6,809.8 L726.3,804.6 L727.0,803.7 L727.7,804.3 L728.4,804.0 L729.1,798.7 L729.8,794.3 L730.5,794.4 L731.2,786.5 L731.9,780.7 L732.6,776.9 L733.3,769.5 L734.0,764.6 L734.7,755.4 L735.4,750.7 L736.1,744.8 L736.8,743.2 L737.5,741.0 L738.2,729.5 L738.9,724.0 L739.6,704.9 L740.3,679.8 L741.0,670.8 L741.7,693.9 L742.4,719.1 L743.1,739.8 L743.8,758.5 L744.5,770.5 L745.2,781.2 L745.9,783.9 L746.6,787.8 L747.3,789.7 L748.0,793.2 L748.7,794.5 L749.4,797.9 L750.1,798.5 L750.8,808.1 L751.5,806.7 L752.2,817.1 L752.9,818.8 L753.6,813.5 L754.3,810.4 L755.0,813.6 L755.7,818.2 L756.4,827.0 L757.1,831.7 L757.8,828.1 L758.5,823.7 L759.2,825.8 L759.9,823.9 L760.6,817.5 L761.3,815.1 L762.0,810.9 L762.7,813.2 L763.4,808.8 L764.1,808.9 L764.8,812.1 L765.5,805.1 L766.2,808.2 L766.9,803.2 L767.6,796.1 L768.3,798.1 L769.0,800.1 L769.7,806.7 L770.4,809.4 L771.1,814.2 L771.8,816.5 L772.5,819.6 L773.2,823.5 L773.9,820.8 L774.6,814.7 L775.3,812.2 L776.0,810.6 L776.7,804.6 L777.4,803.1 L778.1,806.9 L778.8,802.9 L779.5,807.1 L780.2,813.9 L780.9,810.6 L781.6,814.5 L782.3,815.2 L783.0,821.9 L783.7,823.5 L784.4,823.7 L785.1,830.4 L785.8,833.2 L786.5,833.4 L787.2,829.7 L787.9,833.9 L788.6,830.1 L789.3,826.2 L790.0,822.5 L790.7,823.5 L791.4,818.3 L792.1,816.4 L792.8,817.5 L793.5,815.3 L794.2,811.7 L794.9,808.5 L795.6,809.3 L796.3,807.9 L797.0,801.1 L797.7,804.9 L798.4,804.5 L799.1,802.5 L799.8,801.0 L800.5,803.8 L801.2,799.7 L801.9,806.6 L802.6,804.5 L803.3,803.3 L804.0,801.3 L804.7,798.0 L805.4,795.6 L806.1,794.1 L806.8,792.0 L807.5,788.3 L808.2,791.3 L808.9,791.0 L809.6,791.5 L810.3,793.4 L811.0,797.6 L811.7,803.7 L812.4,803.8 L813.1,803.2 L813.8,804.1 L814.5,798.3 L815.2,795.2 L815.9,794.9 L816.6,796.3 L817.3,796.6 L818.0,791.8 L818.7,796.3 L819.4,791.9 L820.1,794.0 L820.8,787.5 L821.5,786.0 L822.2,790.3 L822.9,788.5 L823.6,794.4 L824.3,795.6 L825.0,802.2 L825.7,802.8 L826.4,801.4 L827.1,807.9 L827.8,807.2 L828.5,805.7 L829.2,808.3 L829.9,813.7 L830.6,816.3 L831.3,811.7 L832.0,816.8 L832.7,815.8 L833.4,820.7 L834.1,817.3 L834.8,823.7 L835.5,823.7 L836.2,826.1 L836.9,826.8 L837.6,829.6 L838.3,831.2 L839.0,825.7 L839.7,826.7 L840.4,824.8 L841.1,825.8 L841.8,826.2 L842.5,824.2 L843.2,826.1 L843.9,819.8 L844.6,819.3 L845.3,817.0 L846.0,814.2 L846.7,815.0 L847.4,812.4 L848.1,806.6 L848.8,805.1 L849.5,798.9 L850.2,795.7 L850.9,787.2 L851.6,785.3 L852.3,781.0 L853.0,783.8 L853.7,781.6 L854.4,782.0 L855.1,782.1 L855.8,779.8 L856.5,777.1 L857.2,778.2 L857.9,781.2 L858.6,784.6 L859.3,788.7 L860.0,789.2 L860.7,794.9 L861.4,804.6 L862.1,805.1 L862.8,812.8 L863.5,816.4 L864.2,821.8 L864.9,819.4 L865.6,825.1 L866.3,821.8 L867.0,822.4 L867.7,816.4 L868.4,815.1 L869.1,808.1 L869.8,800.1 L870.5,793.4 L871.2,788.5 L871.9,792.3 L872.6,797.1 L873.3,793.2 L874.0,796.5 L874.7,792.3 L875.4,792.3 L876.1,788.5 L876.8,783.4 L877.5,782.1 L878.2,783.8 L878.9,782.1 L879.6,780.8 L880.3,782.3 L881.0,780.6 L881.7,781.7 L882.4,782.2 L883.1,788.0 L883.8,788.4 L884.5,798.3 L885.2,798.2 L885.9,805.8 L886.6,815.2 L887.3,815.1 L888.0,820.4 L888.7,822.0 L889.4,829.0 L890.1,826.2 L890.8,828.2 L891.5,827.3 L892.2,825.4 L892.9,826.5 L893.6,823.1 L894.3,824.1 L895.0,817.9 L895.7,817.1 L896.4,809.9 L897.1,812.7 L897.8,807.6 L898.5,801.6 L899.2,799.9 L899.9,794.2 L900.6,793.5 L901.3,796.2 L902.0,794.5 L902.7,798.6 L903.4,799.0 L904.1,802.4 L904.8,804.3 L905.5,802.2 L906.2,809.9 L906.9,811.7 L907.6,810.9 L908.3,813.0 L909.0,816.4 L909.7,821.9 L910.4,819.9 L911.1,820.1 L911.8,817.8 L912.5,816.4 L913.2,813.3 L913.9,809.1 L914.6,813.4 L915.3,809.1 L916.0,803.9 L916.7,803.2 L917.4,805.4 L918.1,800.8 L918.8,792.8 L919.5,788.4 L920.2,786.0 L920.9,782.8 L921.6,782.5 L922.3,783.3 L923.0,781.5 L923.7,789.4 L924.4,786.7 L925.1,789.5 L925.8,797.1 L926.5,798.3 L927.2,803.3 L927.9,801.4 L928.6,804.6 L929.3,801.2 L930.0,805.0 L930.7,799.8 L931.4,803.2 L932.1,796.6 L932.8,798.0 L933.5,798.0 L934.2,805.1 L934.9,805.6 L935.6,814.3 L936.3,824.1 L937.0,827.2 L937.7,829.3 L938.4,820.5 L939.1,811.0 L939.8,812.1 L940.5,818.2 L941.2,822.0 L941.9,824.6 L942.6,823.5 L943.3,822.9 L944.0,822.6 L944.7,825.5 L945.4,823.4 L946.1,825.5" fill="none" stroke="#d80e18" stroke-width="1.6" stroke-linejoin="miter"/>
<line x1="359" y1="932.5" x2="617.2" y2="932.5" stroke="#4a4a4a" stroke-width="1.2"/>
<line x1="617.2" y1="932.5" x2="617.2" y2="1122.8" stroke="#4a4a4a" stroke-width="1.3"/>
<line x1="359" y1="931.9" x2="359" y2="1123.4" stroke="#4a4a4a" stroke-width="1.3"/>
<line x1="358.4" y1="1122.8" x2="617.8" y2="1122.8" stroke="#4a4a4a" stroke-width="1.3"/>
<line x1="356.2" y1="1122.47" x2="359" y2="1122.47" stroke="#4a4a4a" stroke-width="1"/>
<line x1="354.5" y1="1105.2" x2="359" y2="1105.2" stroke="#4a4a4a" stroke-width="1"/>
<line x1="356.2" y1="1087.93" x2="359" y2="1087.93" stroke="#4a4a4a" stroke-width="1"/>
<line x1="354.5" y1="1070.66" x2="359" y2="1070.66" stroke="#4a4a4a" stroke-width="1"/>
<line x1="356.2" y1="1053.39" x2="359" y2="1053.39" stroke="#4a4a4a" stroke-width="1"/>
<line x1="354.5" y1="1036.12" x2="359" y2="1036.12" stroke="#4a4a4a" stroke-width="1"/>
<line x1="356.2" y1="1018.85" x2="359" y2="1018.85" stroke="#4a4a4a" stroke-width="1"/>
<line x1="354.5" y1="1001.58" x2="359" y2="1001.58" stroke="#4a4a4a" stroke-width="1"/>
<line x1="356.2" y1="984.31" x2="359" y2="984.31" stroke="#4a4a4a" stroke-width="1"/>
<line x1="354.5" y1="967.04" x2="359" y2="967.04" stroke="#4a4a4a" stroke-width="1"/>
<line x1="356.2" y1="949.77" x2="359" y2="949.77" stroke="#4a4a4a" stroke-width="1"/>
<line x1="354.5" y1="932.5" x2="359" y2="932.5" stroke="#4a4a4a" stroke-width="1"/>
<line x1="358.4" y1="1122.8" x2="358.4" y2="1125" stroke="#4a4a4a" stroke-width="1"/>
<line x1="395.4" y1="1122.8" x2="395.4" y2="1126.3" stroke="#4a4a4a" stroke-width="1"/>
<line x1="432.4" y1="1122.8" x2="432.4" y2="1125" stroke="#4a4a4a" stroke-width="1"/>
<line x1="469.4" y1="1122.8" x2="469.4" y2="1126.3" stroke="#4a4a4a" stroke-width="1"/>
<line x1="506.4" y1="1122.8" x2="506.4" y2="1125" stroke="#4a4a4a" stroke-width="1"/>
<line x1="543.4" y1="1122.8" x2="543.4" y2="1126.3" stroke="#4a4a4a" stroke-width="1"/>
<line x1="580.4" y1="1122.8" x2="580.4" y2="1125" stroke="#4a4a4a" stroke-width="1"/>
<line x1="617.4" y1="1122.8" x2="617.4" y2="1126.3" stroke="#4a4a4a" stroke-width="1"/>
<text x="352.7" y="939.1" font-size="14" font-family="'Liberation Serif','Noto Serif CJK SC',serif" fill="#000" text-anchor="end" >2 500</text>
<text x="352.7" y="973.64" font-size="14" font-family="'Liberation Serif','Noto Serif CJK SC',serif" fill="#000" text-anchor="end" >2 000</text>
<text x="352.7" y="1008.18" font-size="14" font-family="'Liberation Serif','Noto Serif CJK SC',serif" fill="#000" text-anchor="end" >1 500</text>
<text x="352.7" y="1042.72" font-size="14" font-family="'Liberation Serif','Noto Serif CJK SC',serif" fill="#000" text-anchor="end" >1 000</text>
<text x="352.7" y="1077.26" font-size="14" font-family="'Liberation Serif','Noto Serif CJK SC',serif" fill="#000" text-anchor="end" >500</text>
<text x="352.7" y="1111.8" font-size="14" font-family="'Liberation Serif','Noto Serif CJK SC',serif" fill="#000" text-anchor="end" >0</text>
<text x="394.4" y="1141.2" font-size="14" font-family="'Liberation Serif','Noto Serif CJK SC',serif" fill="#000" text-anchor="middle" >200</text>
<text x="468.4" y="1141.2" font-size="14" font-family="'Liberation Serif','Noto Serif CJK SC',serif" fill="#000" text-anchor="middle" >400</text>
<text x="542.4" y="1141.2" font-size="14" font-family="'Liberation Serif','Noto Serif CJK SC',serif" fill="#000" text-anchor="middle" >600</text>
<text x="616.4" y="1141.2" font-size="14" font-family="'Liberation Serif','Noto Serif CJK SC',serif" fill="#000" text-anchor="middle" >800</text>
<text x="0" y="0" font-size="15.8" font-family="'Liberation Serif','Noto Serif CJK SC',serif" fill="#000" text-anchor="middle" transform="translate(314.2,1019) rotate(-90)">强度</text>
<text x="436.5" y="1167" font-size="16.5" font-family="'Liberation Serif','Noto Serif CJK SC',serif" fill="#000">拉曼位移/cm<tspan font-size="11" dy="-7" dx="1.5" fill="#666">−</tspan><tspan font-size="10" dx="1">1</tspan></text>
<text x="492.7" y="966" font-size="10.5" font-family="'Liberation Serif','Noto Serif CJK SC',serif" fill="#111">名称＝铅丹</text>
<text x="492.7" y="976.5" font-size="10.5" font-family="'Liberation Serif','Noto Serif CJK SC',serif" fill="#111">MF＝Pb<tspan font-size="6" baseline-shift="-2">3</tspan>O<tspan font-size="6" baseline-shift="-2">4</tspan></text>
<text x="492.7" y="987" font-size="10.5" font-family="'Liberation Serif','Noto Serif CJK SC',serif" fill="#111">785 nm,25%</text>
<text x="416" y="1194.5" font-size="17.5" font-family="'Liberation Serif','Noto Serif CJK SC',serif" fill="#5b77a3" letter-spacing="1.3"><tspan letter-spacing="2.5">(e)</tspan><tspan dx="0.6">红色颜料铅丹</tspan></text>
<path d="M359.3,1103.4 L359.7,1102.8 L360.1,1102.6 L360.5,1102.2 L360.9,1101.7 L361.3,1100.6 L361.7,1099.4 L362.1,1098.2 L362.5,1097.5 L362.9,1096.3 L363.3,1094.0 L363.7,1091.3 L364.1,1088.5 L364.5,1085.8 L364.9,1079.6 L365.3,1070.1 L365.7,1059.1 L366.1,1043.9 L366.5,1020.9 L366.9,995.3 L367.3,969.8 L367.7,961.2 L368.1,975.1 L368.5,993.6 L368.9,1018.7 L369.3,1043.7 L369.7,1058.4 L370.1,1070.8 L370.5,1078.1 L370.9,1081.2 L371.3,1082.8 L371.7,1084.5 L372.1,1084.6 L372.5,1082.6 L372.9,1078.7 L373.3,1074.0 L373.7,1062.1 L374.1,1042.8 L374.5,1027.8 L374.9,1014.6 L375.3,1005.9 L375.7,1005.7 L376.1,1017.7 L376.5,1034.4 L376.9,1044.4 L377.3,1053.8 L377.7,1059.8 L378.1,1061.8 L378.5,1064.2 L378.9,1065.7 L379.3,1068.1 L379.7,1070.5 L380.1,1075.4 L380.5,1079.3 L380.9,1083.6 L381.3,1086.7 L381.7,1090.6 L382.1,1093.3 L382.5,1096.3 L382.9,1097.2 L383.3,1098.1 L383.7,1098.9 L384.1,1099.0 L384.5,1099.7 L384.9,1100.6 L385.3,1100.3 L385.7,1100.7 L386.1,1100.7 L386.5,1101.0 L386.9,1100.7 L387.3,1100.9 L387.7,1101.0 L388.1,1101.0 L388.5,1100.7 L388.9,1101.4 L389.3,1100.7 L389.7,1100.7 L390.1,1100.8 L390.5,1101.6 L390.9,1101.2 L391.3,1101.1 L391.7,1101.1 L392.1,1101.7 L392.5,1101.2 L392.9,1101.2 L393.3,1101.9 L393.7,1101.3 L394.1,1101.6 L394.5,1101.5 L394.9,1101.0 L395.3,1100.7 L395.7,1100.8 L396.1,1099.8 L396.5,1099.4 L396.9,1099.3 L397.3,1100.7 L397.7,1101.9 L398.1,1103.2 L398.5,1103.7 L398.9,1103.9 L399.3,1104.0 L399.7,1104.1 L400.1,1104.5 L400.5,1104.3 L400.9,1104.5 L401.3,1104.7 L401.7,1103.4 L402.1,1101.6 L402.5,1101.6 L402.9,1100.1 L403.3,1098.7 L403.7,1098.4 L404.1,1097.1 L404.5,1096.0 L404.9,1095.5 L405.3,1095.0 L405.7,1095.1 L406.1,1095.3 L406.5,1094.6 L406.9,1094.7 L407.3,1095.1 L407.7,1093.9 L408.1,1094.3 L408.5,1094.0 L408.9,1093.7 L409.3,1093.6 L409.7,1093.9 L410.1,1094.0 L410.5,1093.6 L410.9,1093.6 L411.3,1093.7 L411.7,1091.8 L412.1,1088.8 L412.5,1084.3 L412.9,1079.6 L413.3,1075.5 L413.7,1070.5 L414.1,1064.5 L414.5,1058.8 L414.9,1053.5 L415.3,1051.7 L415.7,1053.2 L416.1,1056.4 L416.5,1061.0 L416.9,1065.2 L417.3,1071.7 L417.7,1080.2 L418.1,1085.3 L418.5,1088.2 L418.9,1092.3 L419.3,1094.5 L419.7,1095.7 L420.1,1097.0 L420.5,1097.4 L420.9,1098.5 L421.3,1097.9 L421.7,1098.3 L422.1,1098.3 L422.5,1098.2 L422.9,1097.6 L423.3,1097.3 L423.7,1096.7 L424.1,1095.5 L424.5,1093.9 L424.9,1092.7 L425.3,1091.7 L425.7,1089.6 L426.1,1087.4 L426.5,1084.7 L426.9,1083.7 L427.3,1081.2 L427.7,1078.8 L428.1,1077.8 L428.5,1076.3 L428.9,1073.6 L429.3,1073.2 L429.7,1073.1 L430.1,1074.4 L430.5,1075.9 L430.9,1078.2 L431.3,1080.7 L431.7,1083.6 L432.1,1086.4 L432.5,1088.4 L432.9,1091.0 L433.3,1094.4 L433.7,1094.0 L434.1,1093.9 L434.5,1093.5 L434.9,1092.7 L435.3,1091.7 L435.7,1090.1 L436.1,1087.1 L436.5,1084.4 L436.9,1082.2 L437.3,1082.8 L437.7,1082.8 L438.1,1083.4 L438.5,1084.7 L438.9,1087.5 L439.3,1089.4 L439.7,1091.5 L440.1,1094.5 L440.5,1096.5 L440.9,1098.5 L441.3,1099.3 L441.7,1101.2 L442.1,1102.3 L442.5,1102.3 L442.9,1102.7 L443.3,1103.6 L443.7,1103.8 L444.1,1103.6 L444.5,1103.5 L444.9,1103.7 L445.3,1102.8 L445.7,1101.9 L446.1,1100.5 L446.5,1099.6 L446.9,1098.4 L447.3,1098.1 L447.7,1095.5 L448.1,1094.4 L448.5,1092.8 L448.9,1090.8 L449.3,1090.0 L449.7,1087.8 L450.1,1087.7 L450.5,1087.0 L450.9,1084.9 L451.3,1084.3 L451.7,1083.5 L452.1,1081.2 L452.5,1079.1 L452.9,1078.1 L453.3,1077.7 L453.7,1079.2 L454.1,1081.2 L454.5,1083.6 L454.9,1086.0 L455.3,1088.2 L455.7,1090.7 L456.1,1092.3 L456.5,1094.3 L456.9,1095.7 L457.3,1096.5 L457.7,1097.7 L458.1,1099.1 L458.5,1099.8 L458.9,1100.1 L459.3,1100.4 L459.7,1101.2 L460.1,1101.0 L460.5,1100.5 L460.9,1099.8 L461.3,1099.1 L461.7,1098.1 L462.1,1097.2 L462.5,1096.1 L462.9,1095.2 L463.3,1093.6 L463.7,1091.7 L464.1,1090.3 L464.5,1088.9 L464.9,1087.2 L465.3,1086.3 L465.7,1085.2 L466.1,1083.2 L466.5,1081.8 L466.9,1082.4 L467.3,1082.7 L467.7,1085.0 L468.1,1087.1 L468.5,1091.2 L468.9,1093.4 L469.3,1095.7 L469.7,1098.4 L470.1,1101.0 L470.5,1102.7 L470.9,1103.4 L471.3,1103.3 L471.7,1104.4 L472.1,1104.2 L472.5,1104.3 L472.9,1104.4 L473.3,1103.6 L473.7,1104.6 L474.1,1104.3 L474.5,1104.2 L474.9,1104.2 L475.3,1103.7 L475.7,1104.2 L476.1,1103.5 L476.5,1103.3 L476.9,1103.2 L477.3,1103.5 L477.7,1103.6 L478.1,1103.2 L478.5,1102.8 L478.9,1103.7 L479.3,1103.0 L479.7,1103.8 L480.1,1103.4 L480.5,1103.1 L480.9,1103.1 L481.3,1103.5 L481.7,1103.7 L482.1,1103.3 L482.5,1103.7 L482.9,1104.0 L483.3,1103.1 L483.7,1102.7 L484.1,1102.6 L484.5,1102.4 L484.9,1102.6 L485.3,1102.4 L485.7,1102.1 L486.1,1102.7 L486.5,1101.5 L486.9,1101.9 L487.3,1102.9 L487.7,1102.5 L488.1,1102.2 L488.5,1102.1 L488.9,1102.5 L489.3,1101.9 L489.7,1101.7 L490.1,1101.1 L490.5,1101.4 L490.9,1101.1 L491.3,1101.0 L491.7,1100.8 L492.1,1100.9 L492.5,1100.7 L492.9,1101.0 L493.3,1100.1 L493.7,1100.4 L494.1,1100.9 L494.5,1100.2 L494.9,1100.4 L495.3,1100.3 L495.7,1100.2 L496.1,1099.8 L496.5,1098.9 L496.9,1099.1 L497.3,1098.9 L497.7,1098.3 L498.1,1098.6 L498.5,1098.2 L498.9,1097.9 L499.3,1098.5 L499.7,1098.4 L500.1,1098.2 L500.5,1098.2 L500.9,1098.5 L501.3,1098.7 L501.7,1098.8 L502.1,1099.1 L502.5,1099.2 L502.9,1099.6 L503.3,1099.8 L503.7,1099.9 L504.1,1099.7 L504.5,1099.9 L504.9,1100.4 L505.3,1100.4 L505.7,1100.6 L506.1,1099.9 L506.5,1100.0 L506.9,1101.2 L507.3,1101.2 L507.7,1101.7 L508.1,1101.4 L508.5,1101.2 L508.9,1101.1 L509.3,1100.5 L509.7,1101.3 L510.1,1100.7 L510.5,1101.0 L510.9,1100.8 L511.3,1100.8 L511.7,1100.9 L512.1,1100.5 L512.5,1100.5 L512.9,1100.4 L513.3,1100.6 L513.7,1101.4 L514.1,1100.8 L514.5,1101.4 L514.9,1101.4 L515.3,1101.4 L515.7,1101.4 L516.1,1100.8 L516.5,1101.3 L516.9,1101.6 L517.3,1100.7 L517.7,1100.7 L518.1,1100.2 L518.5,1100.3 L518.9,1099.4 L519.3,1100.0 L519.7,1098.9 L520.1,1098.0 L520.5,1098.6 L520.9,1097.2 L521.3,1095.7 L521.7,1093.9 L522.1,1091.6 L522.5,1089.5 L522.9,1086.3 L523.3,1081.8 L523.7,1077.1 L524.1,1072.7 L524.5,1069.6 L524.9,1067.0 L525.3,1065.3 L525.7,1064.6 L526.1,1064.7 L526.5,1066.4 L526.9,1069.2 L527.3,1071.5 L527.7,1075.1 L528.1,1078.7 L528.5,1083.3 L528.9,1086.7 L529.3,1089.6 L529.7,1091.5 L530.1,1094.8 L530.5,1096.4 L530.9,1097.9 L531.3,1098.2 L531.7,1099.2 L532.1,1100.2 L532.5,1099.6 L532.9,1100.6 L533.3,1101.1 L533.7,1100.8 L534.1,1101.6 L534.5,1101.3 L534.9,1102.1 L535.3,1102.0 L535.7,1102.0 L536.1,1102.8 L536.5,1102.5 L536.9,1102.7 L537.3,1102.0 L537.7,1102.2 L538.1,1102.9 L538.5,1103.0 L538.9,1102.7 L539.3,1103.1 L539.7,1102.5 L540.1,1103.1 L540.5,1102.7 L540.9,1103.2 L541.3,1103.0 L541.7,1103.0 L542.1,1103.3 L542.5,1104.0 L542.9,1103.0 L543.3,1103.2 L543.7,1103.7 L544.1,1103.2 L544.5,1104.0 L544.9,1103.5 L545.3,1103.4 L545.7,1103.5 L546.1,1104.0 L546.5,1103.6 L546.9,1103.6 L547.3,1103.5 L547.7,1102.8 L548.1,1103.1 L548.5,1103.9 L548.9,1103.7 L549.3,1103.5 L549.7,1103.6 L550.1,1103.2 L550.5,1103.5 L550.9,1103.1 L551.3,1103.5 L551.7,1103.1 L552.1,1103.3 L552.5,1103.5 L552.9,1103.3 L553.3,1103.6 L553.7,1103.5 L554.1,1103.5 L554.5,1103.8 L554.9,1102.8 L555.3,1102.8 L555.7,1103.5 L556.1,1103.6 L556.5,1103.9 L556.9,1103.4 L557.3,1103.3 L557.7,1102.7 L558.1,1103.2 L558.5,1103.1 L558.9,1102.4 L559.3,1102.4 L559.7,1102.6 L560.1,1102.6 L560.5,1101.4 L560.9,1102.4 L561.3,1102.4 L561.7,1102.2 L562.1,1102.3 L562.5,1102.3 L562.9,1101.7 L563.3,1102.2 L563.7,1101.9 L564.1,1101.6 L564.5,1101.9 L564.9,1102.3 L565.3,1101.2 L565.7,1101.1 L566.1,1101.1 L566.5,1102.3 L566.9,1101.5 L567.3,1101.5 L567.7,1101.2 L568.1,1101.1 L568.5,1100.6 L568.9,1101.4 L569.3,1101.3 L569.7,1100.5 L570.1,1100.8 L570.5,1100.9 L570.9,1101.2 L571.3,1101.3 L571.7,1101.6 L572.1,1101.8 L572.5,1101.8 L572.9,1102.0 L573.3,1101.3 L573.7,1101.7 L574.1,1102.4 L574.5,1102.2 L574.9,1102.3 L575.3,1101.7 L575.7,1101.8 L576.1,1102.8 L576.5,1102.7 L576.9,1102.4 L577.3,1102.4 L577.7,1101.9 L578.1,1102.7 L578.5,1102.9 L578.9,1103.1 L579.3,1102.6 L579.7,1102.5 L580.1,1102.2 L580.5,1103.0 L580.9,1103.1 L581.3,1102.3 L581.7,1102.7 L582.1,1102.6 L582.5,1102.3 L582.9,1101.6 L583.3,1102.3 L583.7,1102.6 L584.1,1101.8 L584.5,1102.0 L584.9,1101.0 L585.3,1102.6 L585.7,1102.2 L586.1,1102.0 L586.5,1101.8 L586.9,1101.6 L587.3,1101.7 L587.7,1101.6 L588.1,1101.6 L588.5,1101.6 L588.9,1101.6 L589.3,1102.0 L589.7,1100.9 L590.1,1101.5 L590.5,1101.1 L590.9,1100.9 L591.3,1100.4 L591.7,1101.4 L592.1,1100.9 L592.5,1100.9 L592.9,1101.3 L593.3,1100.8 L593.7,1101.2 L594.1,1101.2 L594.5,1101.5 L594.9,1101.6 L595.3,1101.0 L595.7,1101.7 L596.1,1101.4 L596.5,1101.5 L596.9,1101.4 L597.3,1101.8 L597.7,1101.2 L598.1,1101.8 L598.5,1102.1 L598.9,1101.7 L599.3,1102.6 L599.7,1101.7 L600.1,1102.1 L600.5,1101.9 L600.9,1102.0 L601.3,1101.9 L601.7,1102.2 L602.1,1102.5 L602.5,1102.3 L602.9,1103.0 L603.3,1103.3 L603.7,1102.3 L604.1,1103.1 L604.5,1103.0 L604.9,1103.0 L605.3,1103.9 L605.7,1103.5 L606.1,1103.2 L606.5,1103.2 L606.9,1102.5 L607.3,1103.5 L607.7,1103.0 L608.1,1103.4 L608.5,1103.4 L608.9,1103.7 L609.3,1104.1 L609.7,1103.7 L610.1,1103.8 L610.5,1103.3 L610.9,1103.5 L611.3,1103.6 L611.7,1102.9 L612.1,1104.1 L612.5,1103.1 L612.9,1102.9 L613.3,1103.9 L613.7,1104.1 L614.1,1103.1 L614.5,1103.1 L614.9,1104.3 L615.3,1103.2 L615.7,1102.3 L616.1,1102.7 L616.5,1103.5 L616.9,1102.8" fill="none" stroke="#c01a24" stroke-width="1.35" stroke-linejoin="round"/>
<line x1="684.2" y1="932.1" x2="947.2" y2="932.1" stroke="#4a4a4a" stroke-width="1.2"/>
<line x1="947.2" y1="932.1" x2="947.2" y2="1125.5" stroke="#4a4a4a" stroke-width="1.3"/>
<line x1="684.2" y1="931.5" x2="684.2" y2="1126.1" stroke="#4a4a4a" stroke-width="1.3"/>
<line x1="683.6" y1="1125.5" x2="947.8" y2="1125.5" stroke="#4a4a4a" stroke-width="1.3"/>
<line x1="679.7" y1="1125.5" x2="684.2" y2="1125.5" stroke="#4a4a4a" stroke-width="1"/>
<line x1="681.4" y1="1086.88" x2="684.2" y2="1086.88" stroke="#4a4a4a" stroke-width="1"/>
<line x1="679.7" y1="1048.25" x2="684.2" y2="1048.25" stroke="#4a4a4a" stroke-width="1"/>
<line x1="681.4" y1="1009.62" x2="684.2" y2="1009.62" stroke="#4a4a4a" stroke-width="1"/>
<line x1="679.7" y1="971" x2="684.2" y2="971" stroke="#4a4a4a" stroke-width="1"/>
<line x1="681.4" y1="932.38" x2="684.2" y2="932.38" stroke="#4a4a4a" stroke-width="1"/>
<line x1="683.05" y1="1125.5" x2="683.05" y2="1127.7" stroke="#4a4a4a" stroke-width="1"/>
<line x1="749.4" y1="1125.5" x2="749.4" y2="1129" stroke="#4a4a4a" stroke-width="1"/>
<line x1="815.75" y1="1125.5" x2="815.75" y2="1127.7" stroke="#4a4a4a" stroke-width="1"/>
<line x1="882.1" y1="1125.5" x2="882.1" y2="1129" stroke="#4a4a4a" stroke-width="1"/>
<line x1="948.45" y1="1125.5" x2="948.45" y2="1127.7" stroke="#4a4a4a" stroke-width="1"/>
<text x="678.1" y="977.6" font-size="14" font-family="'Liberation Serif','Noto Serif CJK SC',serif" fill="#000" text-anchor="end" >1 800</text>
<text x="678.1" y="1052.5" font-size="14" font-family="'Liberation Serif','Noto Serif CJK SC',serif" fill="#000" text-anchor="end" >1 600</text>
<text x="678.1" y="1128.8" font-size="14" font-family="'Liberation Serif','Noto Serif CJK SC',serif" fill="#000" text-anchor="end" >1 400</text>
<text x="750.9" y="1142.8" font-size="14" font-family="'Liberation Serif','Noto Serif CJK SC',serif" fill="#000" text-anchor="middle" >200</text>
<text x="883.6" y="1142.8" font-size="14" font-family="'Liberation Serif','Noto Serif CJK SC',serif" fill="#000" text-anchor="middle" >400</text>
<text x="0" y="0" font-size="15.8" font-family="'Liberation Serif','Noto Serif CJK SC',serif" fill="#000" text-anchor="middle" transform="translate(639.1,1019.5) rotate(-90)">强度</text>
<text x="770.5" y="1166.5" font-size="16.5" font-family="'Liberation Serif','Noto Serif CJK SC',serif" fill="#000">拉曼位移/cm<tspan font-size="11" dy="-7" dx="1.5" fill="#666">−</tspan><tspan font-size="10" dx="1">1</tspan></text>
<text x="689" y="958" font-size="10.5" font-family="'Liberation Serif','Noto Serif CJK SC',serif" fill="#111">名称＝氧化铁红</text>
<text x="689" y="968.2" font-size="10.5" font-family="'Liberation Serif','Noto Serif CJK SC',serif" fill="#111">MF＝Fe<tspan font-size="6" baseline-shift="-2">2</tspan>O<tspan font-size="6" baseline-shift="-2">3</tspan></text>
<text x="689" y="978.4" font-size="10.5" font-family="'Liberation Serif','Noto Serif CJK SC',serif" fill="#111">785 nm,25%</text>
<text x="743.5" y="1194.5" font-size="17.5" font-family="'Liberation Serif','Noto Serif CJK SC',serif" fill="#5b77a3" letter-spacing="1.3"><tspan letter-spacing="2.5">(f)</tspan><tspan dx="0.6">红色颜料铁红</tspan></text>
<path d="M684.5,1081.6 L685.2,1082.6 L685.9,1080.1 L686.6,1076.0 L687.3,1072.6 L688.0,1070.8 L688.7,1068.3 L689.4,1070.4 L690.1,1069.7 L690.8,1066.8 L691.5,1065.0 L692.2,1062.7 L692.9,1061.6 L693.6,1061.7 L694.3,1060.3 L695.0,1059.7 L695.7,1058.1 L696.4,1054.2 L697.1,1054.7 L697.8,1050.6 L698.5,1055.8 L699.2,1052.4 L699.9,1047.6 L700.6,1052.2 L701.3,1050.0 L702.0,1050.7 L702.7,1043.6 L703.4,1044.8 L704.1,1041.7 L704.8,1046.5 L705.5,1040.3 L706.2,1043.7 L706.9,1043.4 L707.6,1042.9 L708.3,1042.0 L709.0,1041.7 L709.7,1044.2 L710.4,1043.2 L711.1,1041.7 L711.8,1044.5 L712.5,1044.1 L713.2,1042.2 L713.9,1043.7 L714.6,1039.9 L715.3,1041.8 L716.0,1044.7 L716.7,1045.2 L717.4,1045.2 L718.1,1046.5 L718.8,1041.4 L719.5,1044.0 L720.2,1042.7 L720.9,1043.5 L721.6,1042.4 L722.3,1042.8 L723.0,1048.1 L723.7,1043.0 L724.4,1046.6 L725.1,1041.8 L725.8,1042.8 L726.5,1044.7 L727.2,1047.7 L727.9,1044.6 L728.6,1049.3 L729.3,1050.2 L730.0,1049.8 L730.7,1047.8 L731.4,1048.7 L732.1,1052.0 L732.8,1048.9 L733.5,1048.6 L734.2,1047.8 L734.9,1043.6 L735.6,1047.4 L736.3,1043.2 L737.0,1043.1 L737.7,1043.5 L738.4,1041.0 L739.1,1039.1 L739.8,1043.8 L740.5,1039.1 L741.2,1040.9 L741.9,1043.5 L742.6,1041.6 L743.3,1041.6 L744.0,1037.8 L744.7,1040.7 L745.4,1039.6 L746.1,1035.5 L746.8,1038.1 L747.5,1040.4 L748.2,1043.4 L748.9,1043.0 L749.6,1043.5 L750.3,1050.6 L751.0,1050.4 L751.7,1047.8 L752.4,1046.8 L753.1,1047.9 L753.8,1045.9 L754.5,1046.1 L755.2,1047.2 L755.9,1048.0 L756.6,1050.2 L757.3,1047.5 L758.0,1049.6 L758.7,1052.2 L759.4,1053.5 L760.1,1049.2 L760.8,1044.9 L761.5,1043.9 L762.2,1037.6 L762.9,1029.6 L763.6,1030.8 L764.3,1024.2 L765.0,1015.0 L765.7,1011.0 L766.4,1004.2 L767.1,1004.0 L767.8,1000.4 L768.5,997.1 L769.2,1001.5 L769.9,1004.1 L770.6,1012.3 L771.3,1018.8 L772.0,1022.0 L772.7,1025.2 L773.4,1027.6 L774.1,1027.2 L774.8,1032.6 L775.5,1032.3 L776.2,1032.8 L776.9,1036.4 L777.6,1034.8 L778.3,1038.2 L779.0,1036.6 L779.7,1036.5 L780.4,1039.7 L781.1,1042.8 L781.8,1038.5 L782.5,1039.0 L783.2,1040.9 L783.9,1045.3 L784.6,1043.2 L785.3,1043.1 L786.0,1043.4 L786.7,1043.4 L787.4,1045.2 L788.1,1044.7 L788.8,1043.4 L789.5,1047.7 L790.2,1043.9 L790.9,1046.6 L791.6,1046.2 L792.3,1043.0 L793.0,1044.5 L793.7,1048.0 L794.4,1047.5 L795.1,1046.8 L795.8,1040.9 L796.5,1043.7 L797.2,1039.4 L797.9,1037.0 L798.6,1035.7 L799.3,1039.4 L800.0,1039.2 L800.7,1035.8 L801.4,1038.3 L802.1,1033.4 L802.8,1033.1 L803.5,1036.4 L804.2,1037.5 L804.9,1031.7 L805.6,1026.6 L806.3,1026.9 L807.0,1020.8 L807.7,1015.8 L808.4,1014.9 L809.1,1012.9 L809.8,1005.6 L810.5,1004.5 L811.2,1000.9 L811.9,994.2 L812.6,992.4 L813.3,991.2 L814.0,994.3 L814.7,995.7 L815.4,1002.3 L816.1,1007.4 L816.8,1006.4 L817.5,1015.5 L818.2,1015.3 L818.9,1017.6 L819.6,1023.7 L820.3,1025.7 L821.0,1029.1 L821.7,1032.5 L822.4,1039.4 L823.1,1039.8 L823.8,1045.5 L824.5,1046.6 L825.2,1048.6 L825.9,1050.9 L826.6,1048.5 L827.3,1055.1 L828.0,1054.1 L828.7,1051.3 L829.4,1053.4 L830.1,1059.0 L830.8,1057.8 L831.5,1054.0 L832.2,1055.0 L832.9,1061.1 L833.6,1056.4 L834.3,1058.4 L835.0,1059.9 L835.7,1056.9 L836.4,1060.5 L837.1,1062.1 L837.8,1058.9 L838.5,1062.4 L839.2,1064.6 L839.9,1063.8 L840.6,1060.5 L841.3,1061.7 L842.0,1059.5 L842.7,1060.4 L843.4,1059.0 L844.1,1058.3 L844.8,1059.2 L845.5,1054.6 L846.2,1058.7 L846.9,1056.8 L847.6,1057.6 L848.3,1053.6 L849.0,1055.4 L849.7,1055.7 L850.4,1057.7 L851.1,1055.9 L851.8,1055.0 L852.5,1053.0 L853.2,1057.7 L853.9,1059.2 L854.6,1058.0 L855.3,1058.0 L856.0,1055.3 L856.7,1062.6 L857.4,1062.3 L858.1,1061.6 L858.8,1061.4 L859.5,1063.5 L860.2,1065.3 L860.9,1062.6 L861.6,1061.8 L862.3,1063.6 L863.0,1062.3 L863.7,1064.8 L864.4,1067.3 L865.1,1065.6 L865.8,1067.3 L866.5,1066.5 L867.2,1073.0 L867.9,1068.7 L868.6,1074.4 L869.3,1071.1 L870.0,1076.9 L870.7,1074.7 L871.4,1080.9 L872.1,1082.8 L872.8,1081.2 L873.5,1085.2 L874.2,1084.9 L874.9,1087.3 L875.6,1081.9 L876.3,1084.6 L877.0,1081.6 L877.7,1087.9 L878.4,1083.6 L879.1,1089.8 L879.8,1088.9 L880.5,1089.8 L881.2,1086.3 L881.9,1082.4 L882.6,1085.6 L883.3,1079.5 L884.0,1078.5 L884.7,1078.3 L885.4,1078.4 L886.1,1073.9 L886.8,1075.3 L887.5,1071.9 L888.2,1071.5 L888.9,1075.0 L889.6,1071.7 L890.3,1074.4 L891.0,1073.1 L891.7,1072.7 L892.4,1077.6 L893.1,1078.7 L893.8,1078.3 L894.5,1080.6 L895.2,1082.5 L895.9,1084.2 L896.6,1089.1 L897.3,1090.3 L898.0,1086.0 L898.7,1089.9 L899.4,1089.5 L900.1,1095.3 L900.8,1094.6 L901.5,1095.6 L902.2,1099.1 L902.9,1101.2 L903.6,1096.9 L904.3,1099.4 L905.0,1100.2 L905.7,1107.3 L906.4,1104.4 L907.1,1105.2 L907.8,1106.1 L908.5,1106.2 L909.2,1107.6 L909.9,1109.9 L910.6,1114.5 L911.3,1111.7 L912.0,1109.8 L912.7,1112.1 L913.4,1112.8 L914.1,1115.7 L914.8,1115.4 L915.5,1114.7 L916.2,1113.5 L916.9,1112.5 L917.6,1113.4 L918.3,1114.8 L919.0,1118.7 L919.7,1113.2 L920.4,1116.2 L921.1,1118.2 L921.8,1114.8 L922.5,1118.1 L923.2,1121.1 L923.9,1120.4 L924.6,1119.3 L925.3,1123.0 L926.0,1119.8 L926.7,1119.8 L927.4,1117.9 L928.1,1121.0 L928.8,1118.5 L929.5,1120.5 L930.2,1119.9 L930.9,1120.2 L931.6,1119.2 L932.3,1119.9 L933.0,1121.9 L933.7,1122.5 L934.4,1120.7 L935.1,1124.0 L935.8,1125.9 L936.5,1124.3 L937.2,1124.2 L937.9,1125.8 L938.6,1124.5 L939.3,1122.2 L940.0,1121.6 L940.7,1122.9 L941.4,1124.4 L942.1,1123.5 L942.8,1122.8 L943.5,1128.2 L944.2,1127.9 L944.9,1123.1 L945.6,1125.5 L946.3,1129.2" fill="none" stroke="#d80e18" stroke-width="1.6" stroke-linejoin="miter"/>
<line x1="370.3" y1="1227.4" x2="614.6" y2="1227.4" stroke="#4a4a4a" stroke-width="1.2"/>
<line x1="614.6" y1="1227.4" x2="614.6" y2="1426" stroke="#4a4a4a" stroke-width="1.3"/>
<line x1="370.3" y1="1226.8" x2="370.3" y2="1426.6" stroke="#4a4a4a" stroke-width="1.3"/>
<line x1="369.7" y1="1426" x2="615.2" y2="1426" stroke="#4a4a4a" stroke-width="1.3"/>
<line x1="367.5" y1="1421.44" x2="370.3" y2="1421.44" stroke="#4a4a4a" stroke-width="1"/>
<line x1="365.8" y1="1412.2" x2="370.3" y2="1412.2" stroke="#4a4a4a" stroke-width="1"/>
<line x1="367.5" y1="1402.96" x2="370.3" y2="1402.96" stroke="#4a4a4a" stroke-width="1"/>
<line x1="365.8" y1="1393.72" x2="370.3" y2="1393.72" stroke="#4a4a4a" stroke-width="1"/>
<line x1="367.5" y1="1384.48" x2="370.3" y2="1384.48" stroke="#4a4a4a" stroke-width="1"/>
<line x1="365.8" y1="1375.24" x2="370.3" y2="1375.24" stroke="#4a4a4a" stroke-width="1"/>
<line x1="367.5" y1="1366" x2="370.3" y2="1366" stroke="#4a4a4a" stroke-width="1"/>
<line x1="365.8" y1="1356.76" x2="370.3" y2="1356.76" stroke="#4a4a4a" stroke-width="1"/>
<line x1="367.5" y1="1347.52" x2="370.3" y2="1347.52" stroke="#4a4a4a" stroke-width="1"/>
<line x1="365.8" y1="1338.28" x2="370.3" y2="1338.28" stroke="#4a4a4a" stroke-width="1"/>
<line x1="367.5" y1="1329.04" x2="370.3" y2="1329.04" stroke="#4a4a4a" stroke-width="1"/>
<line x1="365.8" y1="1319.8" x2="370.3" y2="1319.8" stroke="#4a4a4a" stroke-width="1"/>
<line x1="367.5" y1="1310.56" x2="370.3" y2="1310.56" stroke="#4a4a4a" stroke-width="1"/>
<line x1="365.8" y1="1301.32" x2="370.3" y2="1301.32" stroke="#4a4a4a" stroke-width="1"/>
<line x1="367.5" y1="1292.08" x2="370.3" y2="1292.08" stroke="#4a4a4a" stroke-width="1"/>
<line x1="365.8" y1="1282.84" x2="370.3" y2="1282.84" stroke="#4a4a4a" stroke-width="1"/>
<line x1="367.5" y1="1273.6" x2="370.3" y2="1273.6" stroke="#4a4a4a" stroke-width="1"/>
<line x1="365.8" y1="1264.36" x2="370.3" y2="1264.36" stroke="#4a4a4a" stroke-width="1"/>
<line x1="367.5" y1="1255.12" x2="370.3" y2="1255.12" stroke="#4a4a4a" stroke-width="1"/>
<line x1="365.8" y1="1245.88" x2="370.3" y2="1245.88" stroke="#4a4a4a" stroke-width="1"/>
<line x1="367.5" y1="1236.64" x2="370.3" y2="1236.64" stroke="#4a4a4a" stroke-width="1"/>
<line x1="365.8" y1="1227.4" x2="370.3" y2="1227.4" stroke="#4a4a4a" stroke-width="1"/>
<line x1="370.3" y1="1426" x2="370.3" y2="1429.5" stroke="#4a4a4a" stroke-width="1"/>
<line x1="385.57" y1="1426" x2="385.57" y2="1428.2" stroke="#4a4a4a" stroke-width="1"/>
<line x1="400.84" y1="1426" x2="400.84" y2="1429.5" stroke="#4a4a4a" stroke-width="1"/>
<line x1="416.11" y1="1426" x2="416.11" y2="1428.2" stroke="#4a4a4a" stroke-width="1"/>
<line x1="431.38" y1="1426" x2="431.38" y2="1429.5" stroke="#4a4a4a" stroke-width="1"/>
<line x1="446.64" y1="1426" x2="446.64" y2="1428.2" stroke="#4a4a4a" stroke-width="1"/>
<line x1="461.91" y1="1426" x2="461.91" y2="1429.5" stroke="#4a4a4a" stroke-width="1"/>
<line x1="477.18" y1="1426" x2="477.18" y2="1428.2" stroke="#4a4a4a" stroke-width="1"/>
<line x1="492.45" y1="1426" x2="492.45" y2="1429.5" stroke="#4a4a4a" stroke-width="1"/>
<line x1="507.72" y1="1426" x2="507.72" y2="1428.2" stroke="#4a4a4a" stroke-width="1"/>
<line x1="522.99" y1="1426" x2="522.99" y2="1429.5" stroke="#4a4a4a" stroke-width="1"/>
<line x1="538.26" y1="1426" x2="538.26" y2="1428.2" stroke="#4a4a4a" stroke-width="1"/>
<line x1="553.52" y1="1426" x2="553.52" y2="1429.5" stroke="#4a4a4a" stroke-width="1"/>
<line x1="568.79" y1="1426" x2="568.79" y2="1428.2" stroke="#4a4a4a" stroke-width="1"/>
<line x1="584.06" y1="1426" x2="584.06" y2="1429.5" stroke="#4a4a4a" stroke-width="1"/>
<line x1="599.33" y1="1426" x2="599.33" y2="1428.2" stroke="#4a4a4a" stroke-width="1"/>
<line x1="614.6" y1="1426" x2="614.6" y2="1429.5" stroke="#4a4a4a" stroke-width="1"/>
<text x="359.6" y="1232.2" font-size="14" font-family="'Liberation Serif','Noto Serif CJK SC',serif" fill="#000" text-anchor="end" >20 000</text>
<text x="359.6" y="1252.62" font-size="14" font-family="'Liberation Serif','Noto Serif CJK SC',serif" fill="#000" text-anchor="end" >18 000</text>
<text x="359.6" y="1273.04" font-size="14" font-family="'Liberation Serif','Noto Serif CJK SC',serif" fill="#000" text-anchor="end" >16 000</text>
<text x="359.6" y="1293.46" font-size="14" font-family="'Liberation Serif','Noto Serif CJK SC',serif" fill="#000" text-anchor="end" >14 000</text>
<text x="359.6" y="1313.88" font-size="14" font-family="'Liberation Serif','Noto Serif CJK SC',serif" fill="#000" text-anchor="end" >10 000</text>
<text x="359.6" y="1334.3" font-size="14" font-family="'Liberation Serif','Noto Serif CJK SC',serif" fill="#000" text-anchor="end" >8 000</text>
<text x="359.6" y="1354.72" font-size="14" font-family="'Liberation Serif','Noto Serif CJK SC',serif" fill="#000" text-anchor="end" >6 000</text>
<text x="359.6" y="1375.14" font-size="14" font-family="'Liberation Serif','Noto Serif CJK SC',serif" fill="#000" text-anchor="end" >4 000</text>
<text x="359.6" y="1395.56" font-size="14" font-family="'Liberation Serif','Noto Serif CJK SC',serif" fill="#000" text-anchor="end" >2 000</text>
<text x="359.6" y="1415.98" font-size="14" font-family="'Liberation Serif','Noto Serif CJK SC',serif" fill="#000" text-anchor="end" >0</text>
<text x="369.6" y="1445" font-size="14" font-family="'Liberation Serif','Noto Serif CJK SC',serif" fill="#000" text-anchor="middle" >0</text>
<text x="402.1" y="1445" font-size="14" font-family="'Liberation Serif','Noto Serif CJK SC',serif" fill="#000" text-anchor="middle" >200</text>
<text x="430.6" y="1445" font-size="14" font-family="'Liberation Serif','Noto Serif CJK SC',serif" fill="#000" text-anchor="middle" >400</text>
<text x="460.7" y="1445" font-size="14" font-family="'Liberation Serif','Noto Serif CJK SC',serif" fill="#000" text-anchor="middle" >600</text>
<text x="492.9" y="1445" font-size="14" font-family="'Liberation Serif','Noto Serif CJK SC',serif" fill="#000" text-anchor="middle" >800</text>
<text x="520.7" y="1445" font-size="14" font-family="'Liberation Serif','Noto Serif CJK SC',serif" fill="#000" text-anchor="middle" textLength="29.5" lengthAdjust="spacingAndGlyphs">1 000</text>
<text x="551.7" y="1445" font-size="14" font-family="'Liberation Serif','Noto Serif CJK SC',serif" fill="#000" text-anchor="middle" textLength="28" lengthAdjust="spacingAndGlyphs">1 200</text>
<text x="583.5" y="1445" font-size="14" font-family="'Liberation Serif','Noto Serif CJK SC',serif" fill="#000" text-anchor="middle" textLength="28.5" lengthAdjust="spacingAndGlyphs">1 400</text>
<text x="614.6" y="1445" font-size="14" font-family="'Liberation Serif','Noto Serif CJK SC',serif" fill="#000" text-anchor="middle" textLength="28.5" lengthAdjust="spacingAndGlyphs">1 600</text>
<text x="0" y="0" font-size="15.8" font-family="'Liberation Serif','Noto Serif CJK SC',serif" fill="#000" text-anchor="middle" transform="translate(310.8,1324) rotate(-90)">强度</text>
<text x="436.7" y="1466" font-size="16.5" font-family="'Liberation Serif','Noto Serif CJK SC',serif" fill="#000">拉曼位移/cm<tspan font-size="11" dy="-7" dx="1.5" fill="#666">−</tspan><tspan font-size="10" dx="1">1</tspan></text>
<text x="544" y="1239" font-size="10.5" font-family="'Liberation Serif','Noto Serif CJK SC',serif" fill="#111">名称＝石膏</text>
<text x="544" y="1249.1" font-size="10.5" font-family="'Liberation Serif','Noto Serif CJK SC',serif" fill="#111">MF＝CaSO<tspan font-size="6" baseline-shift="-2">4</tspan></text>
<text x="544" y="1259.2" font-size="10.5" font-family="'Liberation Serif','Noto Serif CJK SC',serif" fill="#111">785 nm,10%</text>
<text x="412.7" y="1497" font-size="17.5" font-family="'Liberation Serif','Noto Serif CJK SC',serif" fill="#5b77a3" letter-spacing="1.3"><tspan letter-spacing="2.5">(g)</tspan><tspan dx="0.6">白色颜料硫酸钙</tspan></text>
<path d="M385.9,1408.5 L386.4,1408.2 L386.9,1408.0 L387.4,1407.8 L387.9,1407.7 L388.4,1407.7 L388.9,1407.7 L389.4,1407.9 L389.9,1408.2 L390.4,1408.5 L390.9,1408.9 L391.4,1409.0 L391.9,1408.9 L392.4,1408.1 L392.9,1407.1 L393.4,1406.0 L393.9,1405.1 L394.4,1404.8 L394.9,1405.2 L395.4,1406.0 L395.9,1407.0 L396.4,1407.7 L396.9,1408.3 L397.4,1408.9 L397.9,1409.4 L398.4,1409.8 L398.9,1410.1 L399.4,1410.4 L399.9,1410.6 L400.4,1410.8 L400.9,1411.0 L401.4,1411.0 L401.9,1410.6 L402.4,1409.3 L402.9,1407.7 L403.4,1406.2 L403.9,1405.1 L404.4,1404.8 L404.9,1405.2 L405.4,1405.9 L405.9,1406.8 L406.4,1407.5 L406.9,1408.1 L407.4,1408.8 L407.9,1409.4 L408.4,1410.0 L408.9,1410.6 L409.4,1410.9 L409.9,1411.0 L410.4,1411.0 L410.9,1410.9 L411.4,1410.8 L411.9,1410.7 L412.4,1410.6 L412.9,1410.4 L413.4,1410.2 L413.9,1410.0 L414.4,1409.7 L414.9,1409.4 L415.4,1409.1 L415.9,1408.9 L416.4,1408.7 L416.9,1408.4 L417.4,1408.2 L417.9,1407.9 L418.4,1407.6 L418.9,1407.3 L419.4,1406.8 L419.9,1406.3 L420.4,1405.8 L420.9,1405.2 L421.4,1404.5 L421.9,1403.6 L422.4,1402.5 L422.9,1401.5 L423.4,1400.7 L423.9,1400.0 L424.4,1399.3 L424.9,1398.7 L425.4,1398.2 L425.9,1397.8 L426.4,1397.8 L426.9,1397.9 L427.4,1398.1 L427.9,1398.4 L428.4,1398.7 L428.9,1399.0 L429.4,1399.2 L429.9,1399.1 L430.4,1398.5 L430.9,1397.3 L431.4,1395.8 L431.9,1393.1 L432.4,1387.7 L432.9,1385.8 L433.4,1388.6 L433.9,1392.1 L434.4,1395.3 L434.9,1397.6 L435.4,1397.2 L435.9,1395.6 L436.4,1393.9 L436.9,1393.6 L437.4,1393.9 L437.9,1394.6 L438.4,1395.7 L438.9,1398.5 L439.4,1401.4 L439.9,1403.4 L440.4,1405.3 L440.9,1406.2 L441.4,1406.2 L441.9,1406.0 L442.4,1405.6 L442.9,1405.2 L443.4,1404.4 L443.9,1401.6 L444.4,1397.9 L444.9,1394.4 L445.4,1390.5 L445.9,1389.5 L446.4,1392.6 L446.9,1396.4 L447.4,1399.8 L447.9,1403.3 L448.4,1405.8 L448.9,1406.8 L449.4,1407.4 L449.9,1407.9 L450.4,1408.3 L450.9,1408.5 L451.4,1408.7 L451.9,1408.8 L452.4,1408.9 L452.9,1409.0 L453.4,1409.1 L453.9,1409.0 L454.4,1408.9 L454.9,1408.7 L455.4,1408.4 L455.9,1408.1 L456.4,1407.7 L456.9,1407.3 L457.4,1406.7 L457.9,1406.0 L458.4,1405.2 L458.9,1404.3 L459.4,1403.2 L459.9,1401.4 L460.4,1399.2 L460.9,1397.3 L461.4,1396.2 L461.9,1395.6 L462.4,1395.2 L462.9,1394.9 L463.4,1395.2 L463.9,1396.2 L464.4,1397.5 L464.9,1399.0 L465.4,1400.9 L465.9,1403.6 L466.4,1406.1 L466.9,1407.6 L467.4,1408.1 L467.9,1408.6 L468.4,1408.9 L468.9,1409.0 L469.4,1409.0 L469.9,1408.1 L470.4,1406.6 L470.9,1404.8 L471.4,1401.2 L471.9,1397.9 L472.4,1398.6 L472.9,1401.0 L473.4,1402.8 L473.9,1404.5 L474.4,1405.8 L474.9,1406.2 L475.4,1406.1 L475.9,1405.8 L476.4,1405.4 L476.9,1405.1 L477.4,1404.9 L477.9,1404.8 L478.4,1404.9 L478.9,1404.9 L479.4,1405.0 L479.9,1405.1 L480.4,1405.2 L480.9,1405.3 L481.4,1405.4 L481.9,1405.5 L482.4,1405.6 L482.9,1405.7 L483.4,1405.7 L483.9,1405.7 L484.4,1405.7 L484.9,1405.7 L485.4,1405.7 L485.9,1405.7 L486.4,1405.7 L486.9,1405.7 L487.4,1405.7 L487.9,1405.7 L488.4,1405.7 L488.9,1405.7 L489.4,1405.7 L489.9,1405.6 L490.4,1405.6 L490.9,1405.5 L491.4,1405.5 L491.9,1405.4 L492.4,1405.3 L492.9,1405.2 L493.4,1405.1 L493.9,1405.0 L494.4,1404.9 L494.9,1404.8 L495.4,1404.6 L495.9,1404.4 L496.4,1404.2 L496.9,1403.9 L497.4,1403.7 L497.9,1403.6 L498.4,1403.4 L498.9,1403.4 L499.4,1403.4 L499.9,1403.5 L500.4,1403.7 L500.9,1403.8 L501.4,1404.0 L501.9,1404.2 L502.4,1404.5 L502.9,1404.7 L503.4,1405.0 L503.9,1405.4 L504.4,1406.0 L504.9,1406.5 L505.4,1407.1 L505.9,1407.6 L506.4,1408.2 L506.9,1408.8 L507.4,1409.4 L507.9,1409.9 L508.4,1410.3 L508.9,1410.5 L509.4,1410.7 L509.9,1410.8 L510.4,1410.9 L510.9,1411.0 L511.4,1411.0 L511.9,1411.0 L512.4,1410.7 L512.9,1410.3 L513.4,1409.7 L513.9,1408.9 L514.4,1406.3 L514.9,1402.1 L515.4,1397.2 L515.9,1392.4 L516.4,1386.9 L516.9,1381.6 L517.4,1378.2 L517.9,1375.9 L518.4,1376.9 L518.9,1380.6 L519.4,1383.4 L519.9,1386.0 L520.4,1387.7 L520.9,1387.4 L521.4,1384.7 L521.9,1380.4 L522.4,1370.1 L522.9,1348.6 L523.4,1323.2 L523.9,1286.1 L524.4,1272.2 L524.9,1291.6 L525.4,1314.2 L525.9,1341.1 L526.4,1362.5 L526.9,1372.8 L527.4,1380.7 L527.9,1386.6 L528.4,1390.3 L528.9,1392.3 L529.4,1393.8 L529.9,1394.9 L530.4,1395.9 L530.9,1396.8 L531.4,1398.0 L531.9,1399.3 L532.4,1400.7 L532.9,1402.1 L533.4,1403.3 L533.9,1404.4 L534.4,1405.3 L534.9,1406.1 L535.4,1406.9 L535.9,1407.4 L536.4,1407.6 L536.9,1406.6 L537.4,1403.8 L537.9,1400.1 L538.4,1396.1 L538.9,1390.6 L539.4,1384.0 L539.9,1378.1 L540.4,1372.2 L540.9,1367.6 L541.4,1367.1 L541.9,1370.2 L542.4,1374.8 L542.9,1379.7 L543.4,1386.2 L543.9,1390.5 L544.4,1388.2 L544.9,1381.1 L545.4,1376.6 L545.9,1379.7 L546.4,1384.8 L546.9,1389.7 L547.4,1394.3 L547.9,1397.6 L548.4,1400.1 L548.9,1402.3 L549.4,1404.0 L549.9,1405.5 L550.4,1406.9 L550.9,1408.2 L551.4,1409.3 L551.9,1410.1 L552.4,1410.5 L552.9,1410.4 L553.4,1410.0 L553.9,1409.5 L554.4,1408.8 L554.9,1408.2 L555.4,1407.5 L555.9,1406.8 L556.4,1406.1 L556.9,1405.2 L557.4,1404.4 L557.9,1403.7 L558.4,1403.1 L558.9,1402.4 L559.4,1401.8 L559.9,1401.2 L560.4,1400.8 L560.9,1400.6 L561.4,1400.7 L561.9,1401.1 L562.4,1401.6 L562.9,1402.3 L563.4,1402.9 L563.9,1403.6 L564.4,1404.4 L564.9,1405.4 L565.4,1406.3 L565.9,1407.1 L566.4,1407.6 L566.9,1407.6 L567.4,1407.5 L567.9,1407.3 L568.4,1407.0 L568.9,1406.6 L569.4,1406.3 L569.9,1405.8 L570.4,1405.1 L570.9,1404.3 L571.4,1403.4 L571.9,1402.6 L572.4,1401.8 L572.9,1401.0 L573.4,1400.1 L573.9,1399.3 L574.4,1398.6 L574.9,1397.9 L575.4,1397.5 L575.9,1397.0 L576.4,1396.5 L576.9,1396.1 L577.4,1395.9 L577.9,1395.8 L578.4,1395.9 L578.9,1396.1 L579.4,1396.5 L579.9,1396.9 L580.4,1397.4 L580.9,1398.0 L581.4,1398.7 L581.9,1399.7 L582.4,1400.9 L582.9,1402.0 L583.4,1403.1 L583.9,1404.2 L584.4,1405.3 L584.9,1406.5 L585.4,1407.6 L585.9,1408.5 L586.4,1409.1 L586.9,1409.5 L587.4,1409.8 L587.9,1410.1 L588.4,1410.3 L588.9,1410.4 L589.4,1410.4 L589.9,1410.2 L590.4,1409.7 L590.9,1409.0 L591.4,1408.4 L591.9,1407.8 L592.4,1407.2 L592.9,1406.6 L593.4,1405.9 L593.9,1405.3 L594.4,1405.0 L594.9,1404.8 L595.4,1405.0 L595.9,1405.5 L596.4,1405.9 L596.9,1406.3 L597.4,1406.5 L597.9,1406.7 L598.4,1406.9 L598.9,1407.0" fill="none" stroke="#e2868d" stroke-width="1.3" stroke-linejoin="round"/><text x="0" y="0" font-size="9.2" font-family="'Liberation Serif','Noto Serif CJK SC',serif" fill="#111" textLength="19" lengthAdjust="spacingAndGlyphs" transform="translate(435.3,1384.5) rotate(-90)">411.5</text><text x="0" y="0" font-size="9.2" font-family="'Liberation Serif','Noto Serif CJK SC',serif" fill="#111" textLength="18.5" lengthAdjust="spacingAndGlyphs" transform="translate(450.3,1388.5) rotate(-90)">494.1</text><text x="0" y="0" font-size="9.2" font-family="'Liberation Serif','Noto Serif CJK SC',serif" fill="#111" textLength="18" lengthAdjust="spacingAndGlyphs" transform="translate(463.2,1394.5) rotate(-90)">603.5</text><text x="0" y="0" font-size="9.2" font-family="'Liberation Serif','Noto Serif CJK SC',serif" fill="#111" textLength="17.5" lengthAdjust="spacingAndGlyphs" transform="translate(476,1395.5) rotate(-90)">668.3</text><text x="0" y="0" font-size="9.2" font-family="'Liberation Serif','Noto Serif CJK SC',serif" fill="#111" textLength="19" lengthAdjust="spacingAndGlyphs" transform="translate(517.3,1374.5) rotate(-90)">973.7</text><text x="0" y="0" font-size="9.2" font-family="'Liberation Serif','Noto Serif CJK SC',serif" fill="#111" textLength="23" lengthAdjust="spacingAndGlyphs" transform="translate(530,1268.5) rotate(-90)">1 011.3</text><text x="0" y="0" font-size="9.2" font-family="'Liberation Serif','Noto Serif CJK SC',serif" fill="#111" textLength="24" lengthAdjust="spacingAndGlyphs" transform="translate(545,1363.5) rotate(-90)">1 124.0</text><text x="0" y="0" font-size="9.2" font-family="'Liberation Serif','Noto Serif CJK SC',serif" fill="#111" textLength="23" lengthAdjust="spacingAndGlyphs" transform="translate(552,1383.5) rotate(-90)">1 154.5</text>
<line x1="683.3" y1="1230.5" x2="947.5" y2="1230.5" stroke="#4a4a4a" stroke-width="1.2"/>
<line x1="947.5" y1="1230.5" x2="947.5" y2="1424.4" stroke="#4a4a4a" stroke-width="1.3"/>
<line x1="683.3" y1="1229.9" x2="683.3" y2="1425" stroke="#4a4a4a" stroke-width="1.3"/>
<line x1="682.7" y1="1424.4" x2="948.1" y2="1424.4" stroke="#4a4a4a" stroke-width="1.3"/>
<line x1="678.8" y1="1411.2" x2="683.3" y2="1411.2" stroke="#4a4a4a" stroke-width="1"/>
<line x1="680.5" y1="1397.3" x2="683.3" y2="1397.3" stroke="#4a4a4a" stroke-width="1"/>
<line x1="678.8" y1="1383.4" x2="683.3" y2="1383.4" stroke="#4a4a4a" stroke-width="1"/>
<line x1="680.5" y1="1369.5" x2="683.3" y2="1369.5" stroke="#4a4a4a" stroke-width="1"/>
<line x1="678.8" y1="1355.6" x2="683.3" y2="1355.6" stroke="#4a4a4a" stroke-width="1"/>
<line x1="680.5" y1="1341.7" x2="683.3" y2="1341.7" stroke="#4a4a4a" stroke-width="1"/>
<line x1="678.8" y1="1327.8" x2="683.3" y2="1327.8" stroke="#4a4a4a" stroke-width="1"/>
<line x1="680.5" y1="1313.9" x2="683.3" y2="1313.9" stroke="#4a4a4a" stroke-width="1"/>
<line x1="678.8" y1="1300" x2="683.3" y2="1300" stroke="#4a4a4a" stroke-width="1"/>
<line x1="680.5" y1="1286.1" x2="683.3" y2="1286.1" stroke="#4a4a4a" stroke-width="1"/>
<line x1="678.8" y1="1272.2" x2="683.3" y2="1272.2" stroke="#4a4a4a" stroke-width="1"/>
<line x1="680.5" y1="1258.3" x2="683.3" y2="1258.3" stroke="#4a4a4a" stroke-width="1"/>
<line x1="678.8" y1="1244.4" x2="683.3" y2="1244.4" stroke="#4a4a4a" stroke-width="1"/>
<line x1="680.5" y1="1230.5" x2="683.3" y2="1230.5" stroke="#4a4a4a" stroke-width="1"/>
<line x1="704.2" y1="1424.4" x2="704.2" y2="1426.6" stroke="#4a4a4a" stroke-width="1"/>
<line x1="738.5" y1="1424.4" x2="738.5" y2="1427.9" stroke="#4a4a4a" stroke-width="1"/>
<line x1="772.8" y1="1424.4" x2="772.8" y2="1426.6" stroke="#4a4a4a" stroke-width="1"/>
<line x1="807.1" y1="1424.4" x2="807.1" y2="1427.9" stroke="#4a4a4a" stroke-width="1"/>
<line x1="841.4" y1="1424.4" x2="841.4" y2="1426.6" stroke="#4a4a4a" stroke-width="1"/>
<line x1="875.7" y1="1424.4" x2="875.7" y2="1427.9" stroke="#4a4a4a" stroke-width="1"/>
<line x1="910" y1="1424.4" x2="910" y2="1426.6" stroke="#4a4a4a" stroke-width="1"/>
<line x1="944.3" y1="1424.4" x2="944.3" y2="1427.9" stroke="#4a4a4a" stroke-width="1"/>
<text x="678.3" y="1235.7" font-size="14" font-family="'Liberation Serif','Noto Serif CJK SC',serif" fill="#000" text-anchor="end" >300</text>
<text x="678.3" y="1265.6" font-size="14" font-family="'Liberation Serif','Noto Serif CJK SC',serif" fill="#000" text-anchor="end" >250</text>
<text x="678.3" y="1296" font-size="14" font-family="'Liberation Serif','Noto Serif CJK SC',serif" fill="#000" text-anchor="end" >200</text>
<text x="678.3" y="1325.8" font-size="14" font-family="'Liberation Serif','Noto Serif CJK SC',serif" fill="#000" text-anchor="end" >150</text>
<text x="678.3" y="1356.3" font-size="14" font-family="'Liberation Serif','Noto Serif CJK SC',serif" fill="#000" text-anchor="end" >100</text>
<text x="678.3" y="1386.7" font-size="14" font-family="'Liberation Serif','Noto Serif CJK SC',serif" fill="#000" text-anchor="end" >50</text>
<text x="678.3" y="1413" font-size="14" font-family="'Liberation Serif','Noto Serif CJK SC',serif" fill="#000" text-anchor="end" >0</text>
<text x="740.3" y="1442.5" font-size="14" font-family="'Liberation Serif','Noto Serif CJK SC',serif" fill="#000" text-anchor="middle" >500</text>
<text x="807.8" y="1442.5" font-size="14" font-family="'Liberation Serif','Noto Serif CJK SC',serif" fill="#000" text-anchor="middle" >1 000</text>
<text x="877" y="1442.5" font-size="14" font-family="'Liberation Serif','Noto Serif CJK SC',serif" fill="#000" text-anchor="middle" >1 500</text>
<text x="946.2" y="1442.5" font-size="14" font-family="'Liberation Serif','Noto Serif CJK SC',serif" fill="#000" text-anchor="middle" >2 000</text>
<text x="0" y="0" font-size="15.8" font-family="'Liberation Serif','Noto Serif CJK SC',serif" fill="#000" text-anchor="middle" transform="translate(649.3,1324) rotate(-90)">强度</text>
<text x="772.5" y="1465.5" font-size="16.5" font-family="'Liberation Serif','Noto Serif CJK SC',serif" fill="#000">拉曼位移/cm<tspan font-size="11" dy="-7" dx="1.5" fill="#666">−</tspan><tspan font-size="10" dx="1">1</tspan></text>
<text x="815" y="1267" font-size="10.5" font-family="'Liberation Serif','Noto Serif CJK SC',serif" fill="#111">名称＝立德粉</text>
<text x="815" y="1277.5" font-size="10.5" font-family="'Liberation Serif','Noto Serif CJK SC',serif" fill="#111">MF＝ZnS · BaSO<tspan font-size="6" baseline-shift="-2">4</tspan></text>
<text x="730" y="1497" font-size="17.5" font-family="'Liberation Serif','Noto Serif CJK SC',serif" fill="#5b77a3" letter-spacing="1.3"><tspan letter-spacing="2.5">(h)</tspan><tspan dx="0.6">白色颜料立德粉</tspan></text>
<path d="M682.68,1363.8 L682.98,1377.0 L683.28,1366.0 L683.58,1373.4 L683.88,1373.6 L684.18,1364.0 L684.48,1366.7 L684.78,1365.2 L685.08,1359.0 L685.38,1365.2 L685.68,1362.6 L685.98,1364.0 L686.28,1362.3 L686.58,1360.0 L686.88,1373.3 L687.18,1366.2 L687.48,1361.9 L687.78,1369.6 L688.08,1369.1 L688.38,1372.4 L688.68,1375.3 L688.98,1364.7 L689.28,1368.4 L689.58,1366.3 L689.88,1361.4 L690.18,1364.7 L690.48,1358.8 L690.78,1345.0 L691.08,1333.4 L691.38,1338.6 L691.68,1356.5 L691.98,1364.6 L692.28,1364.7 L692.58,1374.3 L692.88,1369.9 L693.18,1377.2 L693.48,1376.6 L693.78,1383.1 L694.08,1390.0 L694.38,1372.2 L694.68,1391.6 L694.98,1389.0 L695.28,1393.7 L695.58,1378.0 L695.88,1385.5 L696.18,1376.0 L696.48,1393.3 L696.78,1384.5 L697.08,1386.7 L697.38,1385.9 L697.68,1391.8 L697.98,1391.4 L698.28,1392.4 L698.58,1396.5 L698.88,1388.0 L699.18,1397.6 L699.48,1385.8 L699.78,1399.2 L700.08,1396.2 L700.38,1391.9 L700.68,1392.3 L700.98,1391.2 L701.28,1394.6 L701.58,1398.0 L701.88,1398.6 L702.18,1389.6 L702.48,1404.9 L702.78,1398.6 L703.08,1398.6 L703.38,1408.3 L703.68,1401.9 L703.98,1405.7 L704.28,1399.3 L704.58,1392.8 L704.88,1381.9 L705.18,1369.0 L705.48,1357.4 L705.78,1361.9 L706.08,1381.5 L706.38,1402.3 L706.68,1398.0 L706.98,1398.8 L707.28,1398.0 L707.58,1403.5 L707.88,1410.6 L708.18,1404.8 L708.48,1396.4 L708.78,1401.8 L709.08,1394.2 L709.38,1402.8 L709.68,1411.7 L709.98,1398.5 L710.28,1401.9 L710.58,1406.8 L710.88,1410.7 L711.18,1405.5 L711.48,1403.9 L711.78,1406.4 L712.08,1400.3 L712.38,1397.0 L712.68,1412.7 L712.98,1403.1 L713.28,1412.0 L713.58,1397.7 L713.88,1392.7 L714.18,1404.7 L714.48,1404.7 L714.78,1411.4 L715.08,1407.4 L715.38,1394.5 L715.68,1399.4 L715.98,1397.5 L716.28,1397.2 L716.58,1405.8 L716.88,1406.6 L717.18,1404.4 L717.48,1397.5 L717.78,1402.9 L718.08,1401.7 L718.38,1394.0 L718.68,1397.5 L718.98,1403.1 L719.28,1383.2 L719.58,1389.2 L719.88,1389.2 L720.18,1390.4 L720.48,1395.0 L720.78,1388.7 L721.08,1398.7 L721.38,1400.1 L721.68,1402.0 L721.98,1402.9 L722.28,1394.6 L722.58,1404.5 L722.88,1404.8 L723.18,1391.3 L723.48,1390.8 L723.78,1392.3 L724.08,1405.9 L724.38,1385.1 L724.68,1368.2 L724.98,1351.5 L725.28,1358.9 L725.58,1373.7 L725.88,1379.6 L726.18,1336.4 L726.48,1278.3 L726.78,1256.2 L727.08,1297.9 L727.38,1347.0 L727.68,1374.6 L727.98,1387.9 L728.28,1389.7 L728.58,1381.8 L728.88,1375.8 L729.18,1377.6 L729.48,1383.3 L729.78,1373.4 L730.08,1370.4 L730.38,1363.7 L730.68,1359.6 L730.98,1362.5 L731.28,1377.5 L731.58,1381.2 L731.88,1377.9 L732.18,1391.7 L732.48,1382.8 L732.78,1391.3 L733.08,1389.5 L733.38,1378.6 L733.68,1382.9 L733.98,1395.0 L734.28,1383.8 L734.58,1385.5 L734.88,1398.4 L735.18,1394.2 L735.48,1399.4 L735.78,1400.4 L736.08,1398.5 L736.38,1383.9 L736.68,1394.2 L736.98,1388.5 L737.28,1388.4 L737.58,1393.6 L737.88,1401.5 L738.18,1405.0 L738.48,1395.2 L738.78,1397.5 L739.08,1401.8 L739.38,1400.4 L739.68,1403.9 L739.98,1399.0 L740.28,1404.2 L740.58,1404.4 L740.88,1397.3 L741.18,1392.9 L741.48,1407.0 L741.78,1390.7 L742.08,1390.3 L742.38,1387.5 L742.68,1408.1 L742.98,1407.0 L743.28,1391.0 L743.58,1394.1 L743.88,1395.7 L744.18,1405.0 L744.48,1398.1 L744.78,1408.0 L745.08,1409.2 L745.38,1403.9 L745.68,1400.3 L745.98,1407.6 L746.28,1396.7 L746.58,1406.9 L746.88,1394.1 L747.18,1396.2 L747.48,1404.5 L747.78,1406.3 L748.08,1398.0 L748.38,1402.8 L748.68,1404.8 L748.98,1407.8 L749.28,1402.5 L749.58,1407.9 L749.88,1394.5 L750.18,1398.0 L750.48,1406.5 L750.78,1408.5 L751.08,1410.7 L751.38,1400.0 L751.68,1407.0 L751.98,1401.3 L752.28,1392.0 L752.58,1409.2 L752.88,1400.9 L753.18,1377.6 L753.48,1393.9 L753.78,1396.9 L754.08,1392.0 L754.38,1410.3 L754.68,1395.9 L754.98,1401.3 L755.28,1401.6 L755.58,1408.2 L755.88,1399.5 L756.18,1396.4 L756.48,1400.9 L756.78,1394.1 L757.08,1403.8 L757.38,1404.1 L757.68,1389.7 L757.98,1385.6 L758.28,1382.6 L758.58,1384.8 L758.88,1396.3 L759.18,1390.2 L759.48,1393.9 L759.78,1406.6 L760.08,1393.7 L760.38,1406.1 L760.68,1404.3 L760.98,1404.2 L761.28,1398.2 L761.58,1398.9 L761.88,1390.7 L762.18,1398.6 L762.48,1409.9 L762.78,1398.0 L763.08,1403.4 L763.38,1394.0 L763.68,1408.1 L763.98,1408.4 L764.28,1398.8 L764.58,1404.8 L764.88,1397.9 L765.18,1398.4 L765.48,1394.3 L765.78,1399.0 L766.08,1407.4 L766.38,1407.6 L766.68,1404.2 L766.98,1398.5 L767.28,1403.2 L767.58,1404.3 L767.88,1394.4 L768.18,1405.4 L768.48,1399.8 L768.78,1398.1 L769.08,1392.1 L769.38,1399.6 L769.68,1404.0 L769.98,1398.3 L770.28,1404.0 L770.58,1400.1 L770.88,1411.6 L771.18,1405.1 L771.48,1398.0 L771.78,1398.4 L772.08,1408.5 L772.38,1399.2 L772.68,1406.4 L772.98,1391.3 L773.28,1393.5 L773.58,1400.7 L773.88,1400.4 L774.18,1394.0 L774.48,1395.7 L774.78,1394.6 L775.08,1403.1 L775.38,1389.6 L775.68,1391.0 L775.98,1400.0 L776.28,1379.2 L776.58,1400.0 L776.88,1396.9 L777.18,1402.4 L777.48,1402.0 L777.78,1392.1 L778.08,1390.5 L778.38,1388.7 L778.68,1387.2 L778.98,1393.3 L779.28,1401.1 L779.58,1402.4 L779.88,1400.3 L780.18,1401.3 L780.48,1400.0 L780.78,1395.0 L781.08,1394.1 L781.38,1400.5 L781.68,1401.7 L781.98,1387.8 L782.28,1389.7 L782.58,1396.8 L782.88,1392.2 L783.18,1395.2 L783.48,1403.2 L783.78,1392.3 L784.08,1399.1 L784.38,1394.4 L784.68,1393.9 L784.98,1384.4 L785.28,1394.5 L785.58,1386.8 L785.88,1385.3 L786.18,1399.4 L786.48,1381.8 L786.78,1373.0 L787.08,1365.7 L787.38,1369.8 L787.68,1382.0 L787.98,1389.3 L788.28,1397.8 L788.58,1388.7 L788.88,1399.5 L789.18,1379.6 L789.48,1381.5 L789.78,1366.2 L790.08,1350.4 L790.38,1348.4 L790.68,1367.7 L790.98,1379.1 L791.28,1389.1 L791.58,1382.9 L791.88,1390.6 L792.18,1390.5 L792.48,1370.7 L792.78,1392.0 L793.08,1393.7 L793.38,1396.0 L793.68,1394.6 L793.98,1394.0 L794.28,1389.5 L794.58,1390.7 L794.88,1389.1 L795.18,1385.9 L795.48,1387.8 L795.78,1390.3 L796.08,1388.6 L796.38,1388.0 L796.68,1395.9 L796.98,1391.0 L797.28,1389.6 L797.58,1386.6 L797.88,1392.4 L798.18,1394.6 L798.48,1393.1 L798.78,1385.5 L799.08,1384.9 L799.38,1390.2 L799.68,1391.7 L799.98,1389.1 L800.28,1380.0 L800.58,1389.9 L800.88,1380.8 L801.18,1385.4 L801.48,1394.6 L801.78,1394.1 L802.08,1394.5 L802.38,1379.2 L802.68,1365.3 L802.98,1349.9 L803.28,1333.1 L803.58,1323.5 L803.88,1343.0 L804.18,1362.6 L804.48,1376.0 L804.78,1368.0 L805.08,1329.7 L805.38,1306.3 L805.68,1309.8 L805.98,1337.8 L806.28,1366.4 L806.58,1368.4 L806.88,1376.1 L807.18,1373.9 L807.48,1379.8 L807.78,1391.4 L808.08,1382.9 L808.38,1383.9 L808.68,1374.4 L808.98,1371.9 L809.28,1380.1 L809.58,1379.8 L809.88,1378.9 L810.18,1373.7 L810.48,1390.7 L810.78,1383.3 L811.08,1382.2 L811.38,1382.9 L811.68,1386.3 L811.98,1383.6 L812.28,1386.1 L812.58,1367.0 L812.88,1370.5 L813.18,1369.0 L813.48,1367.0 L813.78,1370.4 L814.08,1377.6 L814.38,1373.9 L814.68,1381.5 L814.98,1377.6 L815.28,1388.6 L815.58,1373.9 L815.88,1376.2 L816.18,1385.8 L816.48,1373.3 L816.78,1376.9 L817.08,1383.8 L817.38,1376.5 L817.68,1381.7 L817.98,1390.7 L818.28,1369.8 L818.58,1384.8 L818.88,1375.5 L819.18,1376.7 L819.48,1373.6 L819.78,1373.9 L820.08,1389.9 L820.38,1386.3 L820.68,1383.2 L820.98,1377.4 L821.28,1371.1 L821.58,1369.4 L821.88,1373.3 L822.18,1377.1 L822.48,1376.4 L822.78,1385.7 L823.08,1376.8 L823.38,1381.7 L823.68,1374.6 L823.98,1380.8 L824.28,1374.9 L824.58,1369.7 L824.88,1370.6 L825.18,1375.8 L825.48,1376.5 L825.78,1381.2 L826.08,1380.0 L826.38,1372.4 L826.68,1389.4 L826.98,1380.2 L827.28,1390.2 L827.58,1376.3 L827.88,1383.2 L828.18,1378.8 L828.48,1384.9 L828.78,1390.3 L829.08,1388.4 L829.38,1379.4 L829.68,1396.0 L829.98,1392.0 L830.28,1398.6 L830.58,1389.9 L830.88,1389.7 L831.18,1383.0 L831.48,1384.4 L831.78,1393.9 L832.08,1395.7 L832.38,1389.9 L832.68,1396.4 L832.98,1390.9 L833.28,1391.0 L833.58,1392.2 L833.88,1402.3 L834.18,1387.8 L834.48,1392.8 L834.78,1400.8 L835.08,1398.6 L835.38,1400.0 L835.68,1399.1 L835.98,1395.3 L836.28,1402.4 L836.58,1401.3 L836.88,1396.7 L837.18,1395.9 L837.48,1402.0 L837.78,1405.1 L838.08,1395.6 L838.38,1393.4 L838.68,1390.6 L838.98,1400.2 L839.28,1397.0 L839.58,1406.5 L839.88,1399.5 L840.18,1409.5 L840.48,1401.4 L840.78,1394.0 L841.08,1391.9 L841.38,1401.5 L841.68,1388.0 L841.98,1390.9 L842.28,1401.9 L842.58,1408.5 L842.88,1409.0 L843.18,1386.6 L843.48,1395.1 L843.78,1393.2 L844.08,1398.3 L844.38,1400.7 L844.68,1399.9 L844.98,1407.0 L845.28,1396.2 L845.58,1390.6 L845.88,1387.9 L846.18,1390.7 L846.48,1395.4 L846.78,1405.2 L847.08,1405.1 L847.38,1403.1 L847.68,1399.9 L847.98,1400.7 L848.28,1404.4 L848.58,1408.5 L848.88,1411.9 L849.18,1409.9 L849.48,1397.8 L849.78,1402.4 L850.08,1406.9 L850.38,1410.2 L850.68,1401.2 L850.98,1396.2 L851.28,1397.0 L851.58,1404.6 L851.88,1399.4 L852.18,1408.4 L852.48,1410.2 L852.78,1410.0 L853.08,1403.7 L853.38,1408.5 L853.68,1414.4 L853.98,1398.7 L854.28,1405.3 L854.58,1402.5 L854.88,1412.6 L855.18,1402.7 L855.48,1401.8 L855.78,1407.1 L856.08,1404.5 L856.38,1402.2 L856.68,1406.9 L856.98,1402.7 L857.28,1395.9 L857.58,1405.6 L857.88,1406.8 L858.18,1402.4 L858.48,1404.6 L858.78,1409.0 L859.08,1399.6 L859.38,1398.6 L859.68,1405.6 L859.98,1399.3 L860.28,1404.3 L860.58,1401.6 L860.88,1404.6 L861.18,1406.5 L861.48,1412.6 L861.78,1401.2 L862.08,1414.8 L862.38,1407.6 L862.68,1414.8 L862.98,1414.8 L863.28,1407.0 L863.58,1412.3 L863.88,1407.1 L864.18,1401.5 L864.48,1415.6 L864.78,1403.4 L865.08,1401.8 L865.38,1397.3 L865.68,1406.2 L865.98,1401.6 L866.28,1410.2 L866.58,1407.1 L866.88,1406.9 L867.18,1404.0 L867.48,1405.4 L867.78,1403.0 L868.08,1398.6 L868.38,1402.7 L868.68,1405.4 L868.98,1403.9 L869.28,1401.2 L869.58,1404.1 L869.88,1401.8 L870.18,1411.3 L870.48,1398.1 L870.78,1409.2 L871.08,1407.8 L871.38,1398.0 L871.68,1400.0 L871.98,1397.6 L872.28,1405.1 L872.58,1410.6 L872.88,1412.4 L873.18,1392.7 L873.48,1393.8 L873.78,1405.4 L874.08,1395.0 L874.38,1411.2 L874.68,1399.0 L874.98,1406.6 L875.28,1410.9 L875.58,1395.2 L875.88,1399.6 L876.18,1405.1 L876.48,1412.0 L876.78,1406.0 L877.08,1409.0 L877.38,1415.2 L877.68,1403.8 L877.98,1401.2 L878.28,1396.8 L878.58,1412.8 L878.88,1408.5 L879.18,1414.7 L879.48,1403.3 L879.78,1413.1 L880.08,1405.9 L880.38,1412.0 L880.68,1399.9 L880.98,1394.7 L881.28,1399.3 L881.58,1408.1 L881.88,1409.4 L882.18,1398.0 L882.48,1401.7 L882.78,1401.4 L883.08,1399.6 L883.38,1413.4 L883.68,1405.3 L883.98,1398.5 L884.28,1398.3 L884.58,1402.3 L884.88,1402.9 L885.18,1402.8 L885.48,1403.9 L885.78,1411.8 L886.08,1397.8 L886.38,1414.9 L886.68,1406.3 L886.98,1403.0 L887.28,1403.2 L887.58,1397.9 L887.88,1396.4 L888.18,1392.2 L888.48,1402.2 L888.78,1400.9 L889.08,1395.3 L889.38,1389.4 L889.68,1385.1 L889.98,1388.5 L890.28,1398.4 L890.58,1399.5 L890.88,1395.1 L891.18,1414.5 L891.48,1401.0 L891.78,1404.4 L892.08,1398.5 L892.38,1413.8 L892.68,1395.8 L892.98,1406.6 L893.28,1409.7 L893.58,1411.1 L893.88,1404.9 L894.18,1405.6 L894.48,1397.6 L894.78,1411.0 L895.08,1393.2 L895.38,1397.8 L895.68,1403.5 L895.98,1395.4 L896.28,1384.1 L896.58,1395.8 L896.88,1403.6 L897.18,1407.8 L897.48,1403.2 L897.78,1411.2 L898.08,1405.7 L898.38,1407.7 L898.68,1399.8 L898.98,1409.5 L899.28,1406.8 L899.58,1409.9 L899.88,1405.1 L900.18,1404.9 L900.48,1400.9 L900.78,1401.1 L901.08,1401.9 L901.38,1399.9 L901.68,1408.6 L901.98,1397.1 L902.28,1395.6 L902.58,1415.2 L902.88,1403.2 L903.18,1412.0 L903.48,1413.8 L903.78,1409.5 L904.08,1412.3 L904.38,1408.2 L904.68,1398.0 L904.98,1404.7 L905.28,1406.6 L905.58,1402.5 L905.88,1402.1 L906.18,1403.0 L906.48,1403.7 L906.78,1412.3 L907.08,1410.6 L907.38,1411.7 L907.68,1401.0 L907.98,1410.9 L908.28,1401.4 L908.58,1412.9 L908.88,1404.2 L909.18,1411.3 L909.48,1411.6 L909.78,1408.2 L910.08,1399.4 L910.38,1407.5 L910.68,1398.9 L910.98,1402.7 L911.28,1411.9 L911.58,1405.8 L911.88,1400.3 L912.18,1414.5 L912.48,1398.0 L912.78,1411.7 L913.08,1410.7 L913.38,1398.9 L913.68,1414.7 L913.98,1397.1 L914.28,1400.1 L914.58,1404.2 L914.88,1415.8 L915.18,1404.0 L915.48,1393.9 L915.78,1402.2 L916.08,1387.4 L916.38,1380.1 L916.68,1381.9 L916.98,1394.2 L917.28,1394.7 L917.58,1407.1 L917.88,1398.8 L918.18,1412.6 L918.48,1398.6 L918.78,1402.2 L919.08,1409.1 L919.38,1399.1 L919.68,1401.4 L919.98,1413.2 L920.28,1410.4 L920.58,1411.8 L920.88,1411.5 L921.18,1410.5 L921.48,1402.7 L921.78,1413.8 L922.08,1403.6 L922.38,1410.0 L922.68,1408.9 L922.98,1404.1 L923.28,1397.9 L923.58,1397.0 L923.88,1400.5 L924.18,1412.6 L924.48,1412.5 L924.78,1399.8 L925.08,1403.8 L925.38,1398.4 L925.68,1402.9 L925.98,1407.1 L926.28,1408.7 L926.58,1409.7 L926.88,1404.8 L927.18,1414.5 L927.48,1396.2 L927.78,1408.1 L928.08,1396.9 L928.38,1397.2 L928.68,1407.9 L928.98,1397.3 L929.28,1412.8 L929.58,1396.2 L929.88,1395.0 L930.18,1398.0 L930.48,1392.4 L930.78,1393.8 L931.08,1397.6 L931.38,1407.3 L931.68,1406.6 L931.98,1405.5 L932.28,1404.7 L932.58,1410.8 L932.88,1404.3 L933.18,1410.4 L933.48,1412.5 L933.78,1399.3 L934.08,1408.4 L934.38,1408.2 L934.68,1401.1 L934.98,1398.0 L935.28,1402.2 L935.58,1404.4 L935.88,1401.9 L936.18,1408.8 L936.48,1405.8 L936.78,1409.6 L937.08,1406.3 L937.38,1413.5 L937.68,1412.0 L937.98,1402.2 L938.28,1403.8 L938.58,1397.6 L938.88,1410.1 L939.18,1412.5 L939.48,1405.0 L939.78,1391.7 L940.08,1405.5 L940.38,1393.8 L940.68,1410.4 L940.98,1392.4 L941.28,1399.1 L941.58,1392.4 L941.88,1408.9 L942.18,1406.3 L942.48,1408.6 L942.78,1409.6 L943.08,1402.6 L943.38,1410.6 L943.68,1405.1 L943.98,1400.6 L944.28,1401.3 L944.58,1399.7 L944.88,1398.3 L945.18,1405.7 L945.48,1392.1 L945.78,1396.5 L946.08,1407.5 L946.38,1401.8 L946.68,1407.9" fill="none" stroke="#e80c12" stroke-width="1.7" stroke-linejoin="miter"/>
<text x="540.6" y="1543.2" font-family="'Liberation Sans','Noto Sans CJK SC',sans-serif" font-weight="bold" font-size="18.5" fill="#111" textLength="195.2" lengthAdjust="spacingAndGlyphs">图<tspan font-family="'Liberation Serif','Noto Serif CJK SC',serif" font-size="19.5">4</tspan>　拉曼光谱分析结果</text>
<text x="467.8" y="1568" font-size="19.3" font-family="'Liberation Serif','Noto Serif CJK SC',serif" fill="#111" text-anchor="start" font-weight="bold" textLength="339.5" lengthAdjust="spacingAndGlyphs">Fig. 4 Raman Spectrum Analysis Results</text>
<text x="148.5" y="1643.8" font-size="20.5" font-family="'Liberation Serif','Noto Serif CJK SC',serif" fill="#2c5a8c" text-anchor="start" >64</text>
<rect x="178.7" y="1619" width="2.6" height="33" fill="#2c5a8c"/>
<text x="185" y="1634.6" font-size="17.2" font-family="'Liberation Sans','Noto Sans CJK SC',sans-serif" fill="#5e6568" text-anchor="start" font-weight="bold" >颜</text>
<text x="217.4" y="1634.6" font-size="17.2" font-family="'Liberation Sans','Noto Sans CJK SC',sans-serif" fill="#5e6568" text-anchor="start" font-weight="bold" >料</text>
<text x="185.3" y="1651.4" font-size="10.5" font-family="'Liberation Serif','Noto Serif CJK SC',serif" fill="#8a9296" text-anchor="start" font-weight="bold" >Pigments</text>
</svg></body></html>
